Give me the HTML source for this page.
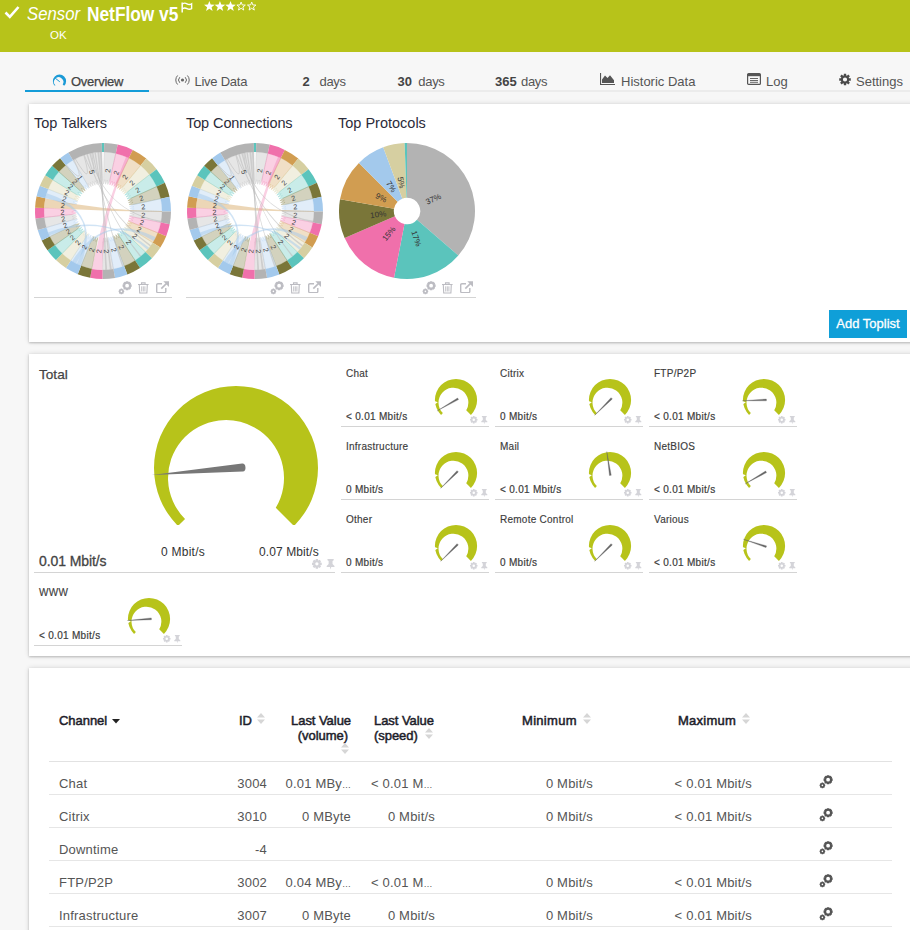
<!DOCTYPE html>
<html><head><meta charset="utf-8"><title>Sensor NetFlow v5</title>
<style>
*{box-sizing:border-box;margin:0;padding:0}
html,body{width:910px;height:930px;overflow:hidden}
body{background:#f7f7f7;font-family:"Liberation Sans",sans-serif;color:#444;position:relative;font-size:13px}
.abs{position:absolute;white-space:nowrap}
.hdr{left:0;top:0;width:910px;height:52px;background:#b7c31a}
.panel{background:#fff;box-shadow:0 0 5px rgba(0,0,0,.14),0 1px 2px rgba(0,0,0,.2)}
.tab{top:74px;font-size:13px;line-height:15px;color:#555}
.tab b{color:#444}
.tt{font-size:14.500px;line-height:18px;color:#2b2b3a;top:114px}
.ln{height:1px;background:#d4d4d4}
.gt{font-size:10px;line-height:13px;color:#3c3c3c;letter-spacing:.25px;-webkit-text-stroke:.15px #3c3c3c}
.gv{font-size:10px;line-height:13px;color:#3c3c3c;letter-spacing:.3px;-webkit-text-stroke:.2px #3c3c3c}
.th{font-size:13px;line-height:15px;font-weight:normal;color:#1d1d2a;top:713px;letter-spacing:-.05px;-webkit-text-stroke:.5px #1d1d2a}
.td{font-size:13px;line-height:15px;color:#555;letter-spacing:.2px}
.el{font-size:9px;letter-spacing:0}
.r{text-align:right}
</style></head><body>

<div class="abs hdr"></div>
<svg class="abs" style="left:4px;top:5px" width="16" height="14" viewBox="0 0 16 14"><path d="M1.500 7.500L5.800 11.800L14.500 2" fill="none" stroke="#fff" stroke-width="2.600"/></svg>
<div class="abs" style="left:27px;top:2px;font-size:18px;line-height:24px;color:#fff;font-style:italic;transform-origin:0 0;transform:scaleX(.93)">Sensor</div>
<div class="abs" style="left:87px;top:1.500px;font-size:20px;line-height:24px;color:#fff;font-weight:bold;transform-origin:0 0;transform:scaleX(.865)">NetFlow v5</div>
<svg class="abs" style="left:181px;top:1.500px" width="13" height="11" viewBox="0 0 13 11"><path d="M1.200 0.500V10.500" fill="none" stroke="#fff" stroke-width="1.500"/><path d="M1.500 1.800q2.200-1.300 4.500 0t4.600 0v4.800q-2.300 1.300-4.600 0t-4.500 0" fill="none" stroke="#fff" stroke-width="1.400"/></svg>
<svg class="abs" style="left:204.300px;top:0.600px" width="56" height="11.600" viewBox="0 0 53 11"><path transform="translate(0 0)" d="M5 0l1.300 3.400 3.700.2-2.900 2.300 1 3.600L5 7.400 1.900 9.500l1-3.600L0 3.600l3.700-.2z" fill="#fff"/><path transform="translate(10.05 0)" d="M5 0l1.300 3.400 3.700.2-2.900 2.300 1 3.600L5 7.400 1.900 9.500l1-3.600L0 3.600l3.700-.2z" fill="#fff"/><path transform="translate(20.1 0)" d="M5 0l1.300 3.400 3.700.2-2.900 2.300 1 3.600L5 7.400 1.900 9.500l1-3.600L0 3.600l3.700-.2z" fill="#fff"/><path transform="translate(30.15 0) translate(1 1) scale(.8)" d="M5 0l1.300 3.400 3.700.2-2.900 2.300 1 3.600L5 7.400 1.900 9.500l1-3.600L0 3.600l3.700-.2z" fill="none" stroke="#fff" stroke-width="1.100"/><path transform="translate(40.2 0) translate(1 1) scale(.8)" d="M5 0l1.300 3.400 3.700.2-2.900 2.300 1 3.600L5 7.400 1.900 9.500l1-3.600L0 3.600l3.700-.2z" fill="none" stroke="#fff" stroke-width="1.100"/></svg>
<div class="abs" style="left:50px;top:28px;font-size:11.500px;line-height:14px;color:#fff">OK</div>
<div class="abs" style="left:25px;top:90px;width:885px;height:2px;background:#ececec"></div>
<div class="abs" style="left:25px;top:90px;width:124px;height:2px;background:#149cd8"></div>
<svg class="abs" style="left:50px;top:72px" width="20" height="16" viewBox="50 72 20 16"><path d="M54.83 85.87A6.6 6.6 0 1 1 64.17 85.87L62.7 84.4A4.67 4.67 0 1 0 55.4 85.3Z" fill="#1b9ad6"/><path d="M55.300 78.200L59.800 81.800" stroke="#1b9ad6" stroke-width="1"/></svg>
<div class="abs tab" style="left:71px;letter-spacing:-.25px;color:#444;-webkit-text-stroke:.25px #444">Overview</div>
<svg class="abs" style="left:175px;top:74px" width="15" height="12" viewBox="0 0 15 12" fill="none" stroke="#666" stroke-width="1"><circle cx="7.500" cy="6" r="1.600" fill="#666" stroke="none"/><path d="M4.800 3.200a4 4 0 0 0 0 5.600M10.200 3.200a4 4 0 0 1 0 5.600M2.600 1.500a6.500 6.500 0 0 0 0 9M12.400 1.500a6.500 6.500 0 0 1 0 9"/></svg>
<div class="abs tab" style="left:194.500px;letter-spacing:-.25px">Live Data</div>
<div class="abs tab" style="left:302.5px"><b>2</b></div>
<div class="abs tab" style="left:319.5px;letter-spacing:-.3px">days</div>
<div class="abs tab" style="left:397.5px"><b>30</b></div>
<div class="abs tab" style="left:418.3px;letter-spacing:-.3px">days</div>
<div class="abs tab" style="left:495px"><b>365</b></div>
<div class="abs tab" style="left:521px;letter-spacing:-.3px">days</div>
<svg class="abs" style="left:600px;top:73px" width="15" height="12" viewBox="0 0 15 12"><path d="M0.500 0v11.500H15" fill="none" stroke="#555" stroke-width="1.200"/><path d="M2 10V6.500l3-4 2.500 2.500L10 2.200l4 5V10z" fill="#555"/></svg>
<div class="abs tab" style="left:621px">Historic Data</div>
<svg class="abs" style="left:747px;top:73px" width="14" height="12" viewBox="0 0 14 12"><rect x=".6" y=".6" width="12.800" height="10.800" rx="1" fill="none" stroke="#555" stroke-width="1.200"/><path d="M1 2h12" stroke="#555" stroke-width="2.400"/><path d="M3 5.500h8M3 7.500h8M3 9.300h8" stroke="#555" stroke-width=".9"/></svg>
<div class="abs tab" style="left:766px">Log</div>
<svg class="abs" style="left:838px;top:72px" width="16" height="16" viewBox="838 72 16 16"><path fill-rule="evenodd" fill="#4a4a4a" d="M843.74 75.49L843.86 73.71L846.14 73.71L846.26 75.49L846.94 75.78L848.29 74.6L849.9 76.21L848.72 77.56L849.01 78.24L850.79 78.36L850.79 80.64L849.01 80.76L848.72 81.44L849.9 82.79L848.29 84.4L846.94 83.22L846.26 83.51L846.14 85.29L843.86 85.29L843.74 83.51L843.06 83.22L841.71 84.4L840.1 82.79L841.28 81.44L840.99 80.76L839.21 80.64L839.21 78.36L840.99 78.24L841.28 77.56L840.1 76.21L841.71 74.6L843.06 75.78ZM842.9 79.5a2.1 2.1 0 1 0 4.2 0a2.1 2.1 0 1 0 -4.2 0Z"/></svg>
<div class="abs tab" style="left:856px">Settings</div>
<div class="abs panel" style="left:29px;top:104px;width:900px;height:238px"></div>
<div class="abs panel" style="left:29px;top:354px;width:900px;height:302px"></div>
<div class="abs panel" style="left:29px;top:668px;width:900px;height:300px"></div>
<svg class="abs" style="left:33px;top:141px" width="140" height="140" viewBox="-70 -70 140 140"><path d="M1.03 -58.99A59 59 0 0 1 12.77 -57.6L6.77 -30.56L4.76 -26.47L4.3 -31L2.62 -26.77L1.8 -31.25L0.47 -26.9Z" fill="#b3b3b3" fill-opacity=".33" stroke="#b3b3b3" stroke-opacity=".4" stroke-width=".6"/><path d="M12.77 -57.6A59 59 0 0 1 25.86 -53.03L13.72 -28.13L10.83 -24.62L11.47 -29.12L8.87 -25.4L9.15 -29.93L6.85 -26.01L6.77 -30.56Z" fill="#f070ab" fill-opacity=".33" stroke="#f070ab" stroke-opacity=".4" stroke-width=".6"/><path d="M25.86 -53.03A59 59 0 0 1 37.53 -45.53L19.91 -24.15L16.28 -21.41L17.95 -25.64L14.55 -22.62L15.89 -26.97L12.73 -23.7L13.72 -28.13Z" fill="#d19d51" fill-opacity=".33" stroke="#d19d51" stroke-opacity=".4" stroke-width=".6"/><path d="M37.53 -45.53A59 59 0 0 1 46.49 -36.32L24.66 -19.27L20.58 -17.32L23.2 -21.01L19.27 -18.77L21.61 -22.64L17.85 -20.12L19.91 -24.15Z" fill="#d6cfa1" fill-opacity=".33" stroke="#d6cfa1" stroke-opacity=".4" stroke-width=".6"/><path d="M46.49 -36.32A59 59 0 0 1 53.69 -24.47L28.48 -12.98L24.02 -12.11L27.38 -15.17L23 -13.96L26.1 -17.28L21.83 -15.72L24.66 -19.27Z" fill="#5bc4bc" fill-opacity=".33" stroke="#5bc4bc" stroke-opacity=".4" stroke-width=".6"/><path d="M53.69 -24.47A59 59 0 0 1 57.71 -12.27L30.62 -6.51L26.09 -6.55L30.06 -8.71L25.55 -8.42L29.35 -10.88L24.87 -10.26L28.48 -12.98Z" fill="#7a7639" fill-opacity=".33" stroke="#7a7639" stroke-opacity=".4" stroke-width=".6"/><path d="M57.71 -12.27A59 59 0 0 1 59 0.41L31.3 0.22L26.89 -0.78L31.23 -2.04L26.76 -2.72L31.01 -4.28L26.5 -4.64L30.62 -6.51Z" fill="#a3c9ec" fill-opacity=".33" stroke="#a3c9ec" stroke-opacity=".4" stroke-width=".6"/><path d="M59 0.41A59 59 0 0 1 57.88 11.46L30.7 6.08L26.57 4.23L31.07 3.75L26.81 2.21L31.27 1.4L26.9 0.19Z" fill="#b3b3b3" fill-opacity=".33" stroke="#b3b3b3" stroke-opacity=".4" stroke-width=".6"/><path d="M57.88 11.46A59 59 0 0 1 54.82 21.82L29.08 11.57L25.34 9.02L29.85 9.41L25.93 7.14L30.46 7.2L26.39 5.22Z" fill="#f070ab" fill-opacity=".33" stroke="#f070ab" stroke-opacity=".4" stroke-width=".6"/><path d="M54.82 21.82A59 59 0 0 1 49.76 31.7L26.4 16.82L23.22 13.59L27.59 14.78L24.17 11.8L28.62 12.66L24.99 9.95Z" fill="#d19d51" fill-opacity=".33" stroke="#d19d51" stroke-opacity=".4" stroke-width=".6"/><path d="M49.76 31.7A59 59 0 0 1 42.44 40.98L22.52 21.74L20.08 17.89L24.19 19.87L21.46 16.23L25.7 17.86L22.69 14.45Z" fill="#d6cfa1" fill-opacity=".33" stroke="#d6cfa1" stroke-opacity=".4" stroke-width=".6"/><path d="M42.44 40.98A59 59 0 0 1 32.13 49.48L17.05 26.25L15.49 21.99L18.98 24.89L17.11 20.76L20.81 23.38L18.63 19.4L22.52 21.74Z" fill="#5bc4bc" fill-opacity=".33" stroke="#5bc4bc" stroke-opacity=".4" stroke-width=".6"/><path d="M32.13 49.48A59 59 0 0 1 21.14 55.08L11.22 29.22L10.68 24.69L13.62 28.18L12.71 23.71L15.93 26.94L14.65 22.56Z" fill="#7a7639" fill-opacity=".33" stroke="#7a7639" stroke-opacity=".4" stroke-width=".6"/><path d="M21.14 55.08A59 59 0 0 1 10.45 58.07L5.54 30.81L5.76 26.28L7.85 30.3L7.72 25.77L10.11 29.62L9.64 25.11Z" fill="#a3c9ec" fill-opacity=".33" stroke="#a3c9ec" stroke-opacity=".4" stroke-width=".6"/><path d="M10.45 58.07A59 59 0 0 1 -0.41 59L-0.22 31.3L0.81 26.89L2.1 31.23L2.79 26.75L4.4 30.99L4.76 26.47Z" fill="#b3b3b3" fill-opacity=".33" stroke="#b3b3b3" stroke-opacity=".4" stroke-width=".6"/><path d="M-11.16 57.94A59 59 0 0 1 -21.91 54.78L-11.62 29.06L-9.03 25.34L-9.38 29.86L-7.08 25.95L-7.08 30.49L-5.09 26.41Z" fill="#7a7639" fill-opacity=".33" stroke="#7a7639" stroke-opacity=".4" stroke-width=".6"/><path d="M-21.91 54.78A59 59 0 0 1 -32.13 49.48L-17.05 26.25L-13.76 23.12L-14.94 27.5L-11.91 24.12L-12.75 28.59L-9.99 24.98Z" fill="#a3c9ec" fill-opacity=".33" stroke="#a3c9ec" stroke-opacity=".4" stroke-width=".6"/><path d="M-32.13 49.48A59 59 0 0 1 -40.84 42.58L-21.66 22.59L-17.87 20.1L-19.9 24.16L-16.31 21.39L-18.02 25.59L-14.65 22.56Z" fill="#d6cfa1" fill-opacity=".33" stroke="#d6cfa1" stroke-opacity=".4" stroke-width=".6"/><path d="M-40.84 42.58A59 59 0 0 1 -48.15 34.09L-25.55 18.09L-21.35 16.37L-24.1 19.98L-20.04 17.94L-22.51 21.75L-18.62 19.42Z" fill="#5bc4bc" fill-opacity=".33" stroke="#5bc4bc" stroke-opacity=".4" stroke-width=".6"/><path d="M-48.15 34.09A59 59 0 0 1 -53.21 25.49L-28.23 13.52L-23.75 12.64L-26.98 15.86L-22.59 14.6L-25.55 18.09Z" fill="#7a7639" fill-opacity=".33" stroke="#7a7639" stroke-opacity=".4" stroke-width=".6"/><path d="M-53.21 25.49A59 59 0 0 1 -56.63 16.56L-30.04 8.78L-25.49 8.59L-29.23 11.19L-24.71 10.63L-28.23 13.52Z" fill="#a3c9ec" fill-opacity=".33" stroke="#a3c9ec" stroke-opacity=".4" stroke-width=".6"/><path d="M-56.63 16.56A59 59 0 0 1 -58.64 6.47L-31.11 3.43L-26.62 3.88L-30.8 5.6L-26.28 5.73L-30.33 7.73L-25.82 7.55Z" fill="#b3b3b3" fill-opacity=".33" stroke="#b3b3b3" stroke-opacity=".4" stroke-width=".6"/><path d="M-58.64 6.47A59 59 0 0 1 -58.93 -2.88L-31.26 -1.53L-26.9 -0.25L-31.29 0.96L-26.83 1.89L-31.11 3.43Z" fill="#f070ab" fill-opacity=".33" stroke="#f070ab" stroke-opacity=".4" stroke-width=".6"/><path d="M-57.6 -12.77A59 59 0 0 1 -54.78 -21.91L-29.06 -11.62L-25.36 -8.97L-29.91 -9.23L-26 -6.88L-30.56 -6.77Z" fill="#a3c9ec" fill-opacity=".33" stroke="#a3c9ec" stroke-opacity=".4" stroke-width=".6"/><path d="M-54.78 -21.91A59 59 0 0 1 -50.14 -31.09L-26.6 -16.49L-23.34 -13.37L-27.69 -14.6L-24.22 -11.71L-28.64 -12.63L-24.98 -9.99Z" fill="#d6cfa1" fill-opacity=".33" stroke="#d6cfa1" stroke-opacity=".4" stroke-width=".6"/><path d="M-50.14 -31.09A59 59 0 0 1 -44.12 -39.17L-23.41 -20.78L-20.86 -16.98L-25.1 -18.71L-22.24 -15.14L-26.6 -16.49Z" fill="#5bc4bc" fill-opacity=".33" stroke="#5bc4bc" stroke-opacity=".4" stroke-width=".6"/><path d="M-44.12 -39.17A59 59 0 0 1 -37.21 -45.79L-19.74 -24.29L-17.8 -20.17L-21.64 -22.61L-19.37 -18.66L-23.41 -20.78Z" fill="#7a7639" fill-opacity=".33" stroke="#7a7639" stroke-opacity=".4" stroke-width=".6"/><path d="M-37.21 -45.79A59 59 0 0 1 -30.03 -50.78L-15.93 -26.94L-14.54 -22.63L-17.89 -25.69L-16.18 -21.49L-19.74 -24.29Z" fill="#a3c9ec" fill-opacity=".33" stroke="#a3c9ec" stroke-opacity=".4" stroke-width=".6"/><path d="M-30.03 -50.78A59 59 0 0 1 -1.03 -58.99L-0.55 -31.3L-1.54 -26.86L-3.03 -31.15L-3.67 -26.65L-5.49 -30.81L-5.77 -26.27L-7.92 -30.28L-7.84 -25.73L-10.3 -29.56L-9.86 -25.03L-12.62 -28.65L-11.81 -24.17L-14.85 -27.55L-13.69 -23.15Z" fill="#b3b3b3" fill-opacity=".33" stroke="#b3b3b3" stroke-opacity=".4" stroke-width=".6"/><path d="M-58.92 -3.09A59 59 0 0 1 -57.65 -12.57Q0 0 59 -0A59 59 0 0 1 58.99 0.82Q0 0 -58.92 -3.09Z" fill="#d19d51" fill-opacity=".42"/><path d="M-0.62 59A59 59 0 0 1 -10.95 57.97Q0 0 23.05 -54.31A59 59 0 0 1 25.86 -53.03Q0 0 -0.62 59Z" fill="#f070ab" fill-opacity=".33"/><path d="M-5.55 -58.74A59 59 0 0 1 -3.7 -58.88Q0 0 8.72 58.35A59 59 0 0 1 6.88 58.6Q0 0 -5.55 -58.74Z" fill="#bdbdbd" fill-opacity=".6"/><path d="M-3.09 -58.92A59 59 0 0 1 -1.24 -58.99Q0 0 4.12 58.86A59 59 0 0 1 2.26 58.96Q0 0 -3.09 -58.92Z" fill="#bdbdbd" fill-opacity=".6"/><path d="M-8.62 -58.37A59 59 0 0 1 -7.19 -58.56Q0 0 20.57 55.3A59 59 0 0 1 19.21 55.79Q0 0 -8.62 -58.37Z" fill="#bdbdbd" fill-opacity=".6"/><path d="M-13.67 -57.39A59 59 0 0 1 -12.27 -57.71Q0 0 58.17 9.84A59 59 0 0 1 57.92 11.26Q0 0 -13.67 -57.39Z" fill="#bdbdbd" fill-opacity=".6"/><path d="M-16.66 -56.6A59 59 0 0 1 -15.27 -56.99Q0 0 47.97 34.35A59 59 0 0 1 47.12 35.51Q0 0 -16.66 -56.6Z" fill="#bdbdbd" fill-opacity=".6"/><path d="M-10.95 -57.97A59 59 0 0 1 -9.64 -58.21Q0 0 38.24 44.93A59 59 0 0 1 37.13 45.85Q0 0 -10.95 -57.97Z" fill="#bdbdbd" fill-opacity=".6"/><path d="M-57.49 -13.27A59 59 0 0 1 -56.27 -17.74Q0 0 -22.58 54.51A59 59 0 0 1 -26.33 52.8Q0 0 -57.49 -13.27Z" fill="#a3c9ec" fill-opacity=".5"/><path d="M-26.79 52.57A59 59 0 0 1 -30.83 50.31Q0 0 52.8 26.33A59 59 0 0 1 50.84 29.94Q0 0 -26.79 52.57Z" fill="#a3c9ec" fill-opacity=".5"/><path d="M-53.69 24.47A59 59 0 0 1 -54.89 21.62Q0 0 46.17 36.73A59 59 0 0 1 44.53 38.71Q0 0 -53.69 24.47Z" fill="#a3c9ec" fill-opacity=".5"/><path d="M-27.7 -52.09Q-8.77 -20.18 -19.21 -55.79" fill="none" stroke="#c9c9c9" stroke-width="1" stroke-opacity=".8"/><path d="M-18.72 -55.95Q-5.6 -21.28 -11.26 -57.92" fill="none" stroke="#c9c9c9" stroke-width="1" stroke-opacity=".8"/><path d="M-36.73 -46.17Q-15.28 -21.03 -29.05 -51.35" fill="none" stroke="#c9c9c9" stroke-width="1" stroke-opacity=".8"/><path d="M0 -68A68 68 0 0 1 1.19 -67.99L1.03 -58.99A59 59 0 0 0 0 -59Z" fill="#5bc4bc"/><path d="M1.19 -67.99A68 68 0 0 1 14.72 -66.39L12.77 -57.6A59 59 0 0 0 1.03 -58.99Z" fill="#b3b3b3"/><path d="M14.72 -66.39A68 68 0 0 1 29.81 -61.12L25.86 -53.03A59 59 0 0 0 12.77 -57.6Z" fill="#f070ab"/><path d="M29.81 -61.12A68 68 0 0 1 43.25 -52.47L37.53 -45.53A59 59 0 0 0 25.86 -53.03Z" fill="#d19d51"/><path d="M43.25 -52.47A68 68 0 0 1 53.58 -41.86L46.49 -36.32A59 59 0 0 0 37.53 -45.53Z" fill="#d6cfa1"/><path d="M53.58 -41.86A68 68 0 0 1 61.88 -28.2L53.69 -24.47A59 59 0 0 0 46.49 -36.32Z" fill="#5bc4bc"/><path d="M61.88 -28.2A68 68 0 0 1 66.51 -14.14L57.71 -12.27A59 59 0 0 0 53.69 -24.47Z" fill="#7a7639"/><path d="M66.51 -14.14A68 68 0 0 1 68 0.47L59 0.41A59 59 0 0 0 57.71 -12.27Z" fill="#a3c9ec"/><path d="M68 0.47A68 68 0 0 1 66.7 13.21L57.88 11.46A59 59 0 0 0 59 0.41Z" fill="#b3b3b3"/><path d="M66.7 13.21A68 68 0 0 1 63.18 25.14L54.82 21.82A59 59 0 0 0 57.88 11.46Z" fill="#f070ab"/><path d="M63.18 25.14A68 68 0 0 1 57.35 36.54L49.76 31.7A59 59 0 0 0 54.82 21.82Z" fill="#d19d51"/><path d="M57.35 36.54A68 68 0 0 1 48.92 47.24L42.44 40.98A59 59 0 0 0 49.76 31.7Z" fill="#d6cfa1"/><path d="M48.92 47.24A68 68 0 0 1 37.04 57.03L32.13 49.48A59 59 0 0 0 42.44 40.98Z" fill="#5bc4bc"/><path d="M37.04 57.03A68 68 0 0 1 24.37 63.48L21.14 55.08A59 59 0 0 0 32.13 49.48Z" fill="#7a7639"/><path d="M24.37 63.48A68 68 0 0 1 12.04 66.93L10.45 58.07A59 59 0 0 0 21.14 55.08Z" fill="#a3c9ec"/><path d="M12.04 66.93A68 68 0 0 1 -0.47 68L-0.41 59A59 59 0 0 0 10.45 58.07Z" fill="#b3b3b3"/><path d="M-0.47 68A68 68 0 0 1 -12.86 66.77L-11.16 57.94A59 59 0 0 0 -0.41 59Z" fill="#f070ab"/><path d="M-12.86 66.77A68 68 0 0 1 -25.25 63.14L-21.91 54.78A59 59 0 0 0 -11.16 57.94Z" fill="#7a7639"/><path d="M-25.25 63.14A68 68 0 0 1 -37.04 57.03L-32.13 49.48A59 59 0 0 0 -21.91 54.78Z" fill="#a3c9ec"/><path d="M-37.04 57.03A68 68 0 0 1 -47.07 49.08L-40.84 42.58A59 59 0 0 0 -32.13 49.48Z" fill="#d6cfa1"/><path d="M-47.07 49.08A68 68 0 0 1 -55.5 39.29L-48.15 34.09A59 59 0 0 0 -40.84 42.58Z" fill="#5bc4bc"/><path d="M-55.5 39.29A68 68 0 0 1 -61.32 29.38L-53.21 25.49A59 59 0 0 0 -48.15 34.09Z" fill="#7a7639"/><path d="M-61.32 29.38A68 68 0 0 1 -65.27 19.09L-56.63 16.56A59 59 0 0 0 -53.21 25.49Z" fill="#a3c9ec"/><path d="M-65.27 19.09A68 68 0 0 1 -67.59 7.46L-58.64 6.47A59 59 0 0 0 -56.63 16.56Z" fill="#b3b3b3"/><path d="M-67.59 7.46A68 68 0 0 1 -67.92 -3.32L-58.93 -2.88A59 59 0 0 0 -58.64 6.47Z" fill="#f070ab"/><path d="M-67.92 -3.32A68 68 0 0 1 -66.39 -14.72L-57.6 -12.77A59 59 0 0 0 -58.93 -2.88Z" fill="#d19d51"/><path d="M-66.39 -14.72A68 68 0 0 1 -63.14 -25.25L-54.78 -21.91A59 59 0 0 0 -57.6 -12.77Z" fill="#a3c9ec"/><path d="M-63.14 -25.25A68 68 0 0 1 -57.79 -35.83L-50.14 -31.09A59 59 0 0 0 -54.78 -21.91Z" fill="#d6cfa1"/><path d="M-57.79 -35.83A68 68 0 0 1 -50.85 -45.15L-44.12 -39.17A59 59 0 0 0 -50.14 -31.09Z" fill="#5bc4bc"/><path d="M-50.85 -45.15A68 68 0 0 1 -42.89 -52.77L-37.21 -45.79A59 59 0 0 0 -44.12 -39.17Z" fill="#7a7639"/><path d="M-42.89 -52.77A68 68 0 0 1 -34.61 -58.53L-30.03 -50.78A59 59 0 0 0 -37.21 -45.79Z" fill="#a3c9ec"/><path d="M-34.61 -58.53A68 68 0 0 1 -1.19 -67.99L-1.03 -58.99A59 59 0 0 0 -30.03 -50.78Z" fill="#b3b3b3"/><path d="M-1.19 -67.99A68 68 0 0 1 -0 -68L-0 -59A59 59 0 0 0 -1.03 -58.99Z" fill="#5bc4bc"/><text transform="translate(4.76 -40.22) rotate(-83.25)" text-anchor="middle" font-size="7.200" fill="#444" dy="2.500" font-family="Liberation Sans">2</text><text transform="translate(13.35 -38.24) rotate(-70.75)" text-anchor="middle" font-size="7.200" fill="#444" dy="2.500" font-family="Liberation Sans">2</text><text transform="translate(21.91 -34.06) rotate(-57.25)" text-anchor="middle" font-size="7.200" fill="#444" dy="2.500" font-family="Liberation Sans">2</text><text transform="translate(29.01 -28.26) rotate(-44.25)" text-anchor="middle" font-size="7.200" fill="#444" dy="2.500" font-family="Liberation Sans">2</text><text transform="translate(34.62 -21.01) rotate(-31.25)" text-anchor="middle" font-size="7.200" fill="#444" dy="2.500" font-family="Liberation Sans">2</text><text transform="translate(38.46 -12.68) rotate(-18.25)" text-anchor="middle" font-size="7.200" fill="#444" dy="2.500" font-family="Liberation Sans">2</text><text transform="translate(40.29 -4.09) rotate(-5.8)" text-anchor="middle" font-size="7.200" fill="#444" dy="2.500" font-family="Liberation Sans">2</text><text transform="translate(40.29 4.09) rotate(5.8)" text-anchor="middle" font-size="7.200" fill="#444" dy="2.500" font-family="Liberation Sans">2</text><text transform="translate(38.84 11.47) rotate(16.45)" text-anchor="middle" font-size="7.200" fill="#444" dy="2.500" font-family="Liberation Sans">2</text><text transform="translate(36.05 18.45) rotate(27.1)" text-anchor="middle" font-size="7.200" fill="#444" dy="2.500" font-family="Liberation Sans">2</text><text transform="translate(31.81 25.07) rotate(38.25)" text-anchor="middle" font-size="7.200" fill="#444" dy="2.500" font-family="Liberation Sans">2</text><text transform="translate(25.76 31.25) rotate(50.5)" text-anchor="middle" font-size="7.200" fill="#444" dy="2.500" font-family="Liberation Sans">2</text><text transform="translate(18.39 36.09) rotate(63)" text-anchor="middle" font-size="7.200" fill="#444" dy="2.500" font-family="Liberation Sans">2</text><text transform="translate(10.89 39.01) rotate(74.4)" text-anchor="middle" font-size="7.200" fill="#444" dy="2.500" font-family="Liberation Sans">2</text><text transform="translate(3.46 40.35) rotate(85.1)" text-anchor="middle" font-size="7.200" fill="#444" dy="2.500" font-family="Liberation Sans">2</text><text transform="translate(-3.99 40.3) rotate(-84.35)" text-anchor="middle" font-size="7.200" fill="#444" dy="2.500" font-family="Liberation Sans">2</text><text transform="translate(-11.4 38.86) rotate(-73.65)" text-anchor="middle" font-size="7.200" fill="#444" dy="2.500" font-family="Liberation Sans">2</text><text transform="translate(-18.64 35.96) rotate(-62.6)" text-anchor="middle" font-size="7.200" fill="#444" dy="2.500" font-family="Liberation Sans">2</text><text transform="translate(-25.16 31.74) rotate(-51.6)" text-anchor="middle" font-size="7.200" fill="#444" dy="2.500" font-family="Liberation Sans">2</text><text transform="translate(-30.68 26.44) rotate(-40.75)" text-anchor="middle" font-size="7.200" fill="#444" dy="2.500" font-family="Liberation Sans">2</text><text transform="translate(-34.91 20.52) rotate(-30.45)" text-anchor="middle" font-size="7.200" fill="#444" dy="2.500" font-family="Liberation Sans">2</text><text transform="translate(-37.82 14.48) rotate(-20.95)" text-anchor="middle" font-size="7.200" fill="#444" dy="2.500" font-family="Liberation Sans">2</text><text transform="translate(-39.71 7.94) rotate(-11.3)" text-anchor="middle" font-size="7.200" fill="#444" dy="2.500" font-family="Liberation Sans">2</text><text transform="translate(-40.48 1.24) rotate(-1.75)" text-anchor="middle" font-size="7.200" fill="#444" dy="2.500" font-family="Liberation Sans">2</text><text transform="translate(-40.14 -5.39) rotate(7.65)" text-anchor="middle" font-size="7.200" fill="#444" dy="2.500" font-family="Liberation Sans">2</text><text transform="translate(-38.7 -11.94) rotate(17.15)" text-anchor="middle" font-size="7.200" fill="#444" dy="2.500" font-family="Liberation Sans">2</text><text transform="translate(-36.15 -18.26) rotate(26.8)" text-anchor="middle" font-size="7.200" fill="#444" dy="2.500" font-family="Liberation Sans">2</text><text transform="translate(-32.47 -24.2) rotate(36.7)" text-anchor="middle" font-size="7.200" fill="#444" dy="2.500" font-family="Liberation Sans">2</text><text transform="translate(-28.01 -29.26) rotate(46.25)" text-anchor="middle" font-size="7.200" fill="#444" dy="2.500" font-family="Liberation Sans">2</text><text transform="translate(-23.14 -33.24) rotate(55.15)" text-anchor="middle" font-size="7.200" fill="#444" dy="2.500" font-family="Liberation Sans">1</text><text transform="translate(-11.03 -38.97) rotate(74.2)" text-anchor="middle" font-size="7.200" fill="#444" dy="2.500" font-family="Liberation Sans">5</text></svg>
<svg class="abs" style="left:185px;top:141px" width="140" height="140" viewBox="-70 -70 140 140"><path d="M1.03 -58.99A59 59 0 0 1 12.77 -57.6L6.77 -30.56L4.76 -26.47L4.3 -31L2.62 -26.77L1.8 -31.25L0.47 -26.9Z" fill="#b3b3b3" fill-opacity=".33" stroke="#b3b3b3" stroke-opacity=".4" stroke-width=".6"/><path d="M12.77 -57.6A59 59 0 0 1 25.86 -53.03L13.72 -28.13L10.83 -24.62L11.47 -29.12L8.87 -25.4L9.15 -29.93L6.85 -26.01L6.77 -30.56Z" fill="#f070ab" fill-opacity=".33" stroke="#f070ab" stroke-opacity=".4" stroke-width=".6"/><path d="M25.86 -53.03A59 59 0 0 1 37.53 -45.53L19.91 -24.15L16.28 -21.41L17.95 -25.64L14.55 -22.62L15.89 -26.97L12.73 -23.7L13.72 -28.13Z" fill="#d19d51" fill-opacity=".33" stroke="#d19d51" stroke-opacity=".4" stroke-width=".6"/><path d="M37.53 -45.53A59 59 0 0 1 46.49 -36.32L24.66 -19.27L20.58 -17.32L23.2 -21.01L19.27 -18.77L21.61 -22.64L17.85 -20.12L19.91 -24.15Z" fill="#d6cfa1" fill-opacity=".33" stroke="#d6cfa1" stroke-opacity=".4" stroke-width=".6"/><path d="M46.49 -36.32A59 59 0 0 1 53.69 -24.47L28.48 -12.98L24.02 -12.11L27.38 -15.17L23 -13.96L26.1 -17.28L21.83 -15.72L24.66 -19.27Z" fill="#5bc4bc" fill-opacity=".33" stroke="#5bc4bc" stroke-opacity=".4" stroke-width=".6"/><path d="M53.69 -24.47A59 59 0 0 1 57.71 -12.27L30.62 -6.51L26.09 -6.55L30.06 -8.71L25.55 -8.42L29.35 -10.88L24.87 -10.26L28.48 -12.98Z" fill="#7a7639" fill-opacity=".33" stroke="#7a7639" stroke-opacity=".4" stroke-width=".6"/><path d="M57.71 -12.27A59 59 0 0 1 59 0.41L31.3 0.22L26.89 -0.78L31.23 -2.04L26.76 -2.72L31.01 -4.28L26.5 -4.64L30.62 -6.51Z" fill="#a3c9ec" fill-opacity=".33" stroke="#a3c9ec" stroke-opacity=".4" stroke-width=".6"/><path d="M59 0.41A59 59 0 0 1 57.88 11.46L30.7 6.08L26.57 4.23L31.07 3.75L26.81 2.21L31.27 1.4L26.9 0.19Z" fill="#b3b3b3" fill-opacity=".33" stroke="#b3b3b3" stroke-opacity=".4" stroke-width=".6"/><path d="M57.88 11.46A59 59 0 0 1 54.82 21.82L29.08 11.57L25.34 9.02L29.85 9.41L25.93 7.14L30.46 7.2L26.39 5.22Z" fill="#f070ab" fill-opacity=".33" stroke="#f070ab" stroke-opacity=".4" stroke-width=".6"/><path d="M54.82 21.82A59 59 0 0 1 49.76 31.7L26.4 16.82L23.22 13.59L27.59 14.78L24.17 11.8L28.62 12.66L24.99 9.95Z" fill="#d19d51" fill-opacity=".33" stroke="#d19d51" stroke-opacity=".4" stroke-width=".6"/><path d="M49.76 31.7A59 59 0 0 1 42.44 40.98L22.52 21.74L20.08 17.89L24.19 19.87L21.46 16.23L25.7 17.86L22.69 14.45Z" fill="#d6cfa1" fill-opacity=".33" stroke="#d6cfa1" stroke-opacity=".4" stroke-width=".6"/><path d="M42.44 40.98A59 59 0 0 1 32.13 49.48L17.05 26.25L15.49 21.99L18.98 24.89L17.11 20.76L20.81 23.38L18.63 19.4L22.52 21.74Z" fill="#5bc4bc" fill-opacity=".33" stroke="#5bc4bc" stroke-opacity=".4" stroke-width=".6"/><path d="M32.13 49.48A59 59 0 0 1 21.14 55.08L11.22 29.22L10.68 24.69L13.62 28.18L12.71 23.71L15.93 26.94L14.65 22.56Z" fill="#7a7639" fill-opacity=".33" stroke="#7a7639" stroke-opacity=".4" stroke-width=".6"/><path d="M21.14 55.08A59 59 0 0 1 10.45 58.07L5.54 30.81L5.76 26.28L7.85 30.3L7.72 25.77L10.11 29.62L9.64 25.11Z" fill="#a3c9ec" fill-opacity=".33" stroke="#a3c9ec" stroke-opacity=".4" stroke-width=".6"/><path d="M10.45 58.07A59 59 0 0 1 -0.41 59L-0.22 31.3L0.81 26.89L2.1 31.23L2.79 26.75L4.4 30.99L4.76 26.47Z" fill="#b3b3b3" fill-opacity=".33" stroke="#b3b3b3" stroke-opacity=".4" stroke-width=".6"/><path d="M-11.16 57.94A59 59 0 0 1 -21.91 54.78L-11.62 29.06L-9.03 25.34L-9.38 29.86L-7.08 25.95L-7.08 30.49L-5.09 26.41Z" fill="#7a7639" fill-opacity=".33" stroke="#7a7639" stroke-opacity=".4" stroke-width=".6"/><path d="M-21.91 54.78A59 59 0 0 1 -32.13 49.48L-17.05 26.25L-13.76 23.12L-14.94 27.5L-11.91 24.12L-12.75 28.59L-9.99 24.98Z" fill="#a3c9ec" fill-opacity=".33" stroke="#a3c9ec" stroke-opacity=".4" stroke-width=".6"/><path d="M-32.13 49.48A59 59 0 0 1 -40.84 42.58L-21.66 22.59L-17.87 20.1L-19.9 24.16L-16.31 21.39L-18.02 25.59L-14.65 22.56Z" fill="#d6cfa1" fill-opacity=".33" stroke="#d6cfa1" stroke-opacity=".4" stroke-width=".6"/><path d="M-40.84 42.58A59 59 0 0 1 -48.15 34.09L-25.55 18.09L-21.35 16.37L-24.1 19.98L-20.04 17.94L-22.51 21.75L-18.62 19.42Z" fill="#5bc4bc" fill-opacity=".33" stroke="#5bc4bc" stroke-opacity=".4" stroke-width=".6"/><path d="M-48.15 34.09A59 59 0 0 1 -53.21 25.49L-28.23 13.52L-23.75 12.64L-26.98 15.86L-22.59 14.6L-25.55 18.09Z" fill="#7a7639" fill-opacity=".33" stroke="#7a7639" stroke-opacity=".4" stroke-width=".6"/><path d="M-53.21 25.49A59 59 0 0 1 -56.63 16.56L-30.04 8.78L-25.49 8.59L-29.23 11.19L-24.71 10.63L-28.23 13.52Z" fill="#a3c9ec" fill-opacity=".33" stroke="#a3c9ec" stroke-opacity=".4" stroke-width=".6"/><path d="M-56.63 16.56A59 59 0 0 1 -58.64 6.47L-31.11 3.43L-26.62 3.88L-30.8 5.6L-26.28 5.73L-30.33 7.73L-25.82 7.55Z" fill="#b3b3b3" fill-opacity=".33" stroke="#b3b3b3" stroke-opacity=".4" stroke-width=".6"/><path d="M-58.64 6.47A59 59 0 0 1 -58.93 -2.88L-31.26 -1.53L-26.9 -0.25L-31.29 0.96L-26.83 1.89L-31.11 3.43Z" fill="#f070ab" fill-opacity=".33" stroke="#f070ab" stroke-opacity=".4" stroke-width=".6"/><path d="M-57.6 -12.77A59 59 0 0 1 -54.78 -21.91L-29.06 -11.62L-25.36 -8.97L-29.91 -9.23L-26 -6.88L-30.56 -6.77Z" fill="#a3c9ec" fill-opacity=".33" stroke="#a3c9ec" stroke-opacity=".4" stroke-width=".6"/><path d="M-54.78 -21.91A59 59 0 0 1 -50.14 -31.09L-26.6 -16.49L-23.34 -13.37L-27.69 -14.6L-24.22 -11.71L-28.64 -12.63L-24.98 -9.99Z" fill="#d6cfa1" fill-opacity=".33" stroke="#d6cfa1" stroke-opacity=".4" stroke-width=".6"/><path d="M-50.14 -31.09A59 59 0 0 1 -44.12 -39.17L-23.41 -20.78L-20.86 -16.98L-25.1 -18.71L-22.24 -15.14L-26.6 -16.49Z" fill="#5bc4bc" fill-opacity=".33" stroke="#5bc4bc" stroke-opacity=".4" stroke-width=".6"/><path d="M-44.12 -39.17A59 59 0 0 1 -37.21 -45.79L-19.74 -24.29L-17.8 -20.17L-21.64 -22.61L-19.37 -18.66L-23.41 -20.78Z" fill="#7a7639" fill-opacity=".33" stroke="#7a7639" stroke-opacity=".4" stroke-width=".6"/><path d="M-37.21 -45.79A59 59 0 0 1 -30.03 -50.78L-15.93 -26.94L-14.54 -22.63L-17.89 -25.69L-16.18 -21.49L-19.74 -24.29Z" fill="#a3c9ec" fill-opacity=".33" stroke="#a3c9ec" stroke-opacity=".4" stroke-width=".6"/><path d="M-30.03 -50.78A59 59 0 0 1 -1.03 -58.99L-0.55 -31.3L-1.54 -26.86L-3.03 -31.15L-3.67 -26.65L-5.49 -30.81L-5.77 -26.27L-7.92 -30.28L-7.84 -25.73L-10.3 -29.56L-9.86 -25.03L-12.62 -28.65L-11.81 -24.17L-14.85 -27.55L-13.69 -23.15Z" fill="#b3b3b3" fill-opacity=".33" stroke="#b3b3b3" stroke-opacity=".4" stroke-width=".6"/><path d="M-58.92 -3.09A59 59 0 0 1 -57.65 -12.57Q0 0 59 -0A59 59 0 0 1 58.99 0.82Q0 0 -58.92 -3.09Z" fill="#d19d51" fill-opacity=".42"/><path d="M-0.62 59A59 59 0 0 1 -10.95 57.97Q0 0 23.05 -54.31A59 59 0 0 1 25.86 -53.03Q0 0 -0.62 59Z" fill="#f070ab" fill-opacity=".33"/><path d="M-5.55 -58.74A59 59 0 0 1 -3.7 -58.88Q0 0 8.72 58.35A59 59 0 0 1 6.88 58.6Q0 0 -5.55 -58.74Z" fill="#bdbdbd" fill-opacity=".6"/><path d="M-3.09 -58.92A59 59 0 0 1 -1.24 -58.99Q0 0 4.12 58.86A59 59 0 0 1 2.26 58.96Q0 0 -3.09 -58.92Z" fill="#bdbdbd" fill-opacity=".6"/><path d="M-8.62 -58.37A59 59 0 0 1 -7.19 -58.56Q0 0 20.57 55.3A59 59 0 0 1 19.21 55.79Q0 0 -8.62 -58.37Z" fill="#bdbdbd" fill-opacity=".6"/><path d="M-13.67 -57.39A59 59 0 0 1 -12.27 -57.71Q0 0 58.17 9.84A59 59 0 0 1 57.92 11.26Q0 0 -13.67 -57.39Z" fill="#bdbdbd" fill-opacity=".6"/><path d="M-16.66 -56.6A59 59 0 0 1 -15.27 -56.99Q0 0 47.97 34.35A59 59 0 0 1 47.12 35.51Q0 0 -16.66 -56.6Z" fill="#bdbdbd" fill-opacity=".6"/><path d="M-10.95 -57.97A59 59 0 0 1 -9.64 -58.21Q0 0 38.24 44.93A59 59 0 0 1 37.13 45.85Q0 0 -10.95 -57.97Z" fill="#bdbdbd" fill-opacity=".6"/><path d="M-57.49 -13.27A59 59 0 0 1 -56.27 -17.74Q0 0 -22.58 54.51A59 59 0 0 1 -26.33 52.8Q0 0 -57.49 -13.27Z" fill="#a3c9ec" fill-opacity=".5"/><path d="M-26.79 52.57A59 59 0 0 1 -30.83 50.31Q0 0 52.8 26.33A59 59 0 0 1 50.84 29.94Q0 0 -26.79 52.57Z" fill="#a3c9ec" fill-opacity=".5"/><path d="M-53.69 24.47A59 59 0 0 1 -54.89 21.62Q0 0 46.17 36.73A59 59 0 0 1 44.53 38.71Q0 0 -53.69 24.47Z" fill="#a3c9ec" fill-opacity=".5"/><path d="M-27.7 -52.09Q-8.77 -20.18 -19.21 -55.79" fill="none" stroke="#c9c9c9" stroke-width="1" stroke-opacity=".8"/><path d="M-18.72 -55.95Q-5.6 -21.28 -11.26 -57.92" fill="none" stroke="#c9c9c9" stroke-width="1" stroke-opacity=".8"/><path d="M-36.73 -46.17Q-15.28 -21.03 -29.05 -51.35" fill="none" stroke="#c9c9c9" stroke-width="1" stroke-opacity=".8"/><path d="M0 -68A68 68 0 0 1 1.19 -67.99L1.03 -58.99A59 59 0 0 0 0 -59Z" fill="#5bc4bc"/><path d="M1.19 -67.99A68 68 0 0 1 14.72 -66.39L12.77 -57.6A59 59 0 0 0 1.03 -58.99Z" fill="#b3b3b3"/><path d="M14.72 -66.39A68 68 0 0 1 29.81 -61.12L25.86 -53.03A59 59 0 0 0 12.77 -57.6Z" fill="#f070ab"/><path d="M29.81 -61.12A68 68 0 0 1 43.25 -52.47L37.53 -45.53A59 59 0 0 0 25.86 -53.03Z" fill="#d19d51"/><path d="M43.25 -52.47A68 68 0 0 1 53.58 -41.86L46.49 -36.32A59 59 0 0 0 37.53 -45.53Z" fill="#d6cfa1"/><path d="M53.58 -41.86A68 68 0 0 1 61.88 -28.2L53.69 -24.47A59 59 0 0 0 46.49 -36.32Z" fill="#5bc4bc"/><path d="M61.88 -28.2A68 68 0 0 1 66.51 -14.14L57.71 -12.27A59 59 0 0 0 53.69 -24.47Z" fill="#7a7639"/><path d="M66.51 -14.14A68 68 0 0 1 68 0.47L59 0.41A59 59 0 0 0 57.71 -12.27Z" fill="#a3c9ec"/><path d="M68 0.47A68 68 0 0 1 66.7 13.21L57.88 11.46A59 59 0 0 0 59 0.41Z" fill="#b3b3b3"/><path d="M66.7 13.21A68 68 0 0 1 63.18 25.14L54.82 21.82A59 59 0 0 0 57.88 11.46Z" fill="#f070ab"/><path d="M63.18 25.14A68 68 0 0 1 57.35 36.54L49.76 31.7A59 59 0 0 0 54.82 21.82Z" fill="#d19d51"/><path d="M57.35 36.54A68 68 0 0 1 48.92 47.24L42.44 40.98A59 59 0 0 0 49.76 31.7Z" fill="#d6cfa1"/><path d="M48.92 47.24A68 68 0 0 1 37.04 57.03L32.13 49.48A59 59 0 0 0 42.44 40.98Z" fill="#5bc4bc"/><path d="M37.04 57.03A68 68 0 0 1 24.37 63.48L21.14 55.08A59 59 0 0 0 32.13 49.48Z" fill="#7a7639"/><path d="M24.37 63.48A68 68 0 0 1 12.04 66.93L10.45 58.07A59 59 0 0 0 21.14 55.08Z" fill="#a3c9ec"/><path d="M12.04 66.93A68 68 0 0 1 -0.47 68L-0.41 59A59 59 0 0 0 10.45 58.07Z" fill="#b3b3b3"/><path d="M-0.47 68A68 68 0 0 1 -12.86 66.77L-11.16 57.94A59 59 0 0 0 -0.41 59Z" fill="#f070ab"/><path d="M-12.86 66.77A68 68 0 0 1 -25.25 63.14L-21.91 54.78A59 59 0 0 0 -11.16 57.94Z" fill="#7a7639"/><path d="M-25.25 63.14A68 68 0 0 1 -37.04 57.03L-32.13 49.48A59 59 0 0 0 -21.91 54.78Z" fill="#a3c9ec"/><path d="M-37.04 57.03A68 68 0 0 1 -47.07 49.08L-40.84 42.58A59 59 0 0 0 -32.13 49.48Z" fill="#d6cfa1"/><path d="M-47.07 49.08A68 68 0 0 1 -55.5 39.29L-48.15 34.09A59 59 0 0 0 -40.84 42.58Z" fill="#5bc4bc"/><path d="M-55.5 39.29A68 68 0 0 1 -61.32 29.38L-53.21 25.49A59 59 0 0 0 -48.15 34.09Z" fill="#7a7639"/><path d="M-61.32 29.38A68 68 0 0 1 -65.27 19.09L-56.63 16.56A59 59 0 0 0 -53.21 25.49Z" fill="#a3c9ec"/><path d="M-65.27 19.09A68 68 0 0 1 -67.59 7.46L-58.64 6.47A59 59 0 0 0 -56.63 16.56Z" fill="#b3b3b3"/><path d="M-67.59 7.46A68 68 0 0 1 -67.92 -3.32L-58.93 -2.88A59 59 0 0 0 -58.64 6.47Z" fill="#f070ab"/><path d="M-67.92 -3.32A68 68 0 0 1 -66.39 -14.72L-57.6 -12.77A59 59 0 0 0 -58.93 -2.88Z" fill="#d19d51"/><path d="M-66.39 -14.72A68 68 0 0 1 -63.14 -25.25L-54.78 -21.91A59 59 0 0 0 -57.6 -12.77Z" fill="#a3c9ec"/><path d="M-63.14 -25.25A68 68 0 0 1 -57.79 -35.83L-50.14 -31.09A59 59 0 0 0 -54.78 -21.91Z" fill="#d6cfa1"/><path d="M-57.79 -35.83A68 68 0 0 1 -50.85 -45.15L-44.12 -39.17A59 59 0 0 0 -50.14 -31.09Z" fill="#5bc4bc"/><path d="M-50.85 -45.15A68 68 0 0 1 -42.89 -52.77L-37.21 -45.79A59 59 0 0 0 -44.12 -39.17Z" fill="#7a7639"/><path d="M-42.89 -52.77A68 68 0 0 1 -34.61 -58.53L-30.03 -50.78A59 59 0 0 0 -37.21 -45.79Z" fill="#a3c9ec"/><path d="M-34.61 -58.53A68 68 0 0 1 -1.19 -67.99L-1.03 -58.99A59 59 0 0 0 -30.03 -50.78Z" fill="#b3b3b3"/><path d="M-1.19 -67.99A68 68 0 0 1 -0 -68L-0 -59A59 59 0 0 0 -1.03 -58.99Z" fill="#5bc4bc"/><text transform="translate(4.76 -40.22) rotate(-83.25)" text-anchor="middle" font-size="7.200" fill="#444" dy="2.500" font-family="Liberation Sans">2</text><text transform="translate(13.35 -38.24) rotate(-70.75)" text-anchor="middle" font-size="7.200" fill="#444" dy="2.500" font-family="Liberation Sans">2</text><text transform="translate(21.91 -34.06) rotate(-57.25)" text-anchor="middle" font-size="7.200" fill="#444" dy="2.500" font-family="Liberation Sans">2</text><text transform="translate(29.01 -28.26) rotate(-44.25)" text-anchor="middle" font-size="7.200" fill="#444" dy="2.500" font-family="Liberation Sans">2</text><text transform="translate(34.62 -21.01) rotate(-31.25)" text-anchor="middle" font-size="7.200" fill="#444" dy="2.500" font-family="Liberation Sans">2</text><text transform="translate(38.46 -12.68) rotate(-18.25)" text-anchor="middle" font-size="7.200" fill="#444" dy="2.500" font-family="Liberation Sans">2</text><text transform="translate(40.29 -4.09) rotate(-5.8)" text-anchor="middle" font-size="7.200" fill="#444" dy="2.500" font-family="Liberation Sans">2</text><text transform="translate(40.29 4.09) rotate(5.8)" text-anchor="middle" font-size="7.200" fill="#444" dy="2.500" font-family="Liberation Sans">2</text><text transform="translate(38.84 11.47) rotate(16.45)" text-anchor="middle" font-size="7.200" fill="#444" dy="2.500" font-family="Liberation Sans">2</text><text transform="translate(36.05 18.45) rotate(27.1)" text-anchor="middle" font-size="7.200" fill="#444" dy="2.500" font-family="Liberation Sans">2</text><text transform="translate(31.81 25.07) rotate(38.25)" text-anchor="middle" font-size="7.200" fill="#444" dy="2.500" font-family="Liberation Sans">2</text><text transform="translate(25.76 31.25) rotate(50.5)" text-anchor="middle" font-size="7.200" fill="#444" dy="2.500" font-family="Liberation Sans">2</text><text transform="translate(18.39 36.09) rotate(63)" text-anchor="middle" font-size="7.200" fill="#444" dy="2.500" font-family="Liberation Sans">2</text><text transform="translate(10.89 39.01) rotate(74.4)" text-anchor="middle" font-size="7.200" fill="#444" dy="2.500" font-family="Liberation Sans">2</text><text transform="translate(3.46 40.35) rotate(85.1)" text-anchor="middle" font-size="7.200" fill="#444" dy="2.500" font-family="Liberation Sans">2</text><text transform="translate(-3.99 40.3) rotate(-84.35)" text-anchor="middle" font-size="7.200" fill="#444" dy="2.500" font-family="Liberation Sans">2</text><text transform="translate(-11.4 38.86) rotate(-73.65)" text-anchor="middle" font-size="7.200" fill="#444" dy="2.500" font-family="Liberation Sans">2</text><text transform="translate(-18.64 35.96) rotate(-62.6)" text-anchor="middle" font-size="7.200" fill="#444" dy="2.500" font-family="Liberation Sans">2</text><text transform="translate(-25.16 31.74) rotate(-51.6)" text-anchor="middle" font-size="7.200" fill="#444" dy="2.500" font-family="Liberation Sans">2</text><text transform="translate(-30.68 26.44) rotate(-40.75)" text-anchor="middle" font-size="7.200" fill="#444" dy="2.500" font-family="Liberation Sans">2</text><text transform="translate(-34.91 20.52) rotate(-30.45)" text-anchor="middle" font-size="7.200" fill="#444" dy="2.500" font-family="Liberation Sans">2</text><text transform="translate(-37.82 14.48) rotate(-20.95)" text-anchor="middle" font-size="7.200" fill="#444" dy="2.500" font-family="Liberation Sans">2</text><text transform="translate(-39.71 7.94) rotate(-11.3)" text-anchor="middle" font-size="7.200" fill="#444" dy="2.500" font-family="Liberation Sans">2</text><text transform="translate(-40.48 1.24) rotate(-1.75)" text-anchor="middle" font-size="7.200" fill="#444" dy="2.500" font-family="Liberation Sans">2</text><text transform="translate(-40.14 -5.39) rotate(7.65)" text-anchor="middle" font-size="7.200" fill="#444" dy="2.500" font-family="Liberation Sans">2</text><text transform="translate(-38.7 -11.94) rotate(17.15)" text-anchor="middle" font-size="7.200" fill="#444" dy="2.500" font-family="Liberation Sans">2</text><text transform="translate(-36.15 -18.26) rotate(26.8)" text-anchor="middle" font-size="7.200" fill="#444" dy="2.500" font-family="Liberation Sans">2</text><text transform="translate(-32.47 -24.2) rotate(36.7)" text-anchor="middle" font-size="7.200" fill="#444" dy="2.500" font-family="Liberation Sans">2</text><text transform="translate(-28.01 -29.26) rotate(46.25)" text-anchor="middle" font-size="7.200" fill="#444" dy="2.500" font-family="Liberation Sans">2</text><text transform="translate(-23.14 -33.24) rotate(55.15)" text-anchor="middle" font-size="7.200" fill="#444" dy="2.500" font-family="Liberation Sans">1</text><text transform="translate(-11.03 -38.97) rotate(74.2)" text-anchor="middle" font-size="7.200" fill="#444" dy="2.500" font-family="Liberation Sans">5</text></svg>
<svg class="abs" style="left:337px;top:141px" width="140" height="140" viewBox="-70 -70 140 140"><path d="M0 -68A68 68 0 0 1 51.32 44.61L9.96 8.66A13.2 13.2 0 0 0 0 -13.2Z" fill="#b3b3b3"/><path d="M51.32 44.61A68 68 0 0 1 -12.98 66.75L-2.52 12.96A13.2 13.2 0 0 0 9.96 8.66Z" fill="#5bc4bc"/><path d="M-12.98 66.75A68 68 0 0 1 -62.36 27.11L-12.11 5.26A13.2 13.2 0 0 0 -2.52 12.96Z" fill="#f070ab"/><path d="M-62.36 27.11A68 68 0 0 1 -66.97 -11.81L-13 -2.29A13.2 13.2 0 0 0 -12.11 5.26Z" fill="#7a7639"/><path d="M-66.97 -11.81A68 68 0 0 1 -48.08 -48.08L-9.33 -9.33A13.2 13.2 0 0 0 -13 -2.29Z" fill="#d19d51"/><path d="M-48.08 -48.08A68 68 0 0 1 -23.81 -63.69L-4.62 -12.36A13.2 13.2 0 0 0 -9.33 -9.33Z" fill="#a3c9ec"/><path d="M-23.81 -63.69A68 68 0 0 1 -2.37 -67.96L-0.46 -13.19A13.2 13.2 0 0 0 -4.62 -12.36Z" fill="#d6cfa1"/><path d="M-2.37 -67.96A68 68 0 0 1 -0 -68L-0 -13.2A13.2 13.2 0 0 0 -0.46 -13.19Z" fill="#5bc4bc"/><text transform="translate(26.39 -12.03) rotate(-24.5)" text-anchor="middle" font-size="8" fill="#333" dy="2.800" font-family="Liberation Sans">37%</text><text transform="translate(9.44 27.42) rotate(71)" text-anchor="middle" font-size="8" fill="#333" dy="2.800" font-family="Liberation Sans">17%</text><text transform="translate(-18.15 22.62) rotate(-51.25)" text-anchor="middle" font-size="8" fill="#333" dy="2.800" font-family="Liberation Sans">15%</text><text transform="translate(-28.8 3.41) rotate(-6.75)" text-anchor="middle" font-size="8" fill="#333" dy="2.800" font-family="Liberation Sans">10%</text><text transform="translate(-25.72 -13.39) rotate(27.5)" text-anchor="middle" font-size="8" fill="#333" dy="2.800" font-family="Liberation Sans">9%</text><text transform="translate(-15.69 -24.39) rotate(57.25)" text-anchor="middle" font-size="8" fill="#333" dy="2.800" font-family="Liberation Sans">7%</text><text transform="translate(-5.66 -28.44) rotate(78.75)" text-anchor="middle" font-size="8" fill="#333" dy="2.800" font-family="Liberation Sans">5%</text></svg>
<div class="abs tt" style="left:34px">Top Talkers</div>
<div class="abs tt" style="left:186px;letter-spacing:-.1px">Top Connections</div>
<div class="abs tt" style="left:338px">Top Protocols</div>
<svg class="abs" style="left:118px;top:281px" width="14" height="14" viewBox="0 0 14 14"><path fill-rule="evenodd" fill="#bcbcc2" d="M7.61 1.1L7.93 0.15L10.27 0.15L10.59 1.1L10.59 1.1L11.49 0.65L13.15 2.31L12.7 3.21L12.7 3.21L13.65 3.53L13.65 5.87L12.7 6.19L12.7 6.19L13.15 7.09L11.49 8.75L10.59 8.3L10.59 8.3L10.27 9.25L7.93 9.25L7.61 8.3L7.61 8.3L6.71 8.75L5.05 7.09L5.5 6.19L5.5 6.19L4.55 5.87L4.55 3.53L5.5 3.21L5.5 3.21L5.05 2.31L6.71 0.65L7.61 1.1ZM7.2 4.7a1.9 1.9 0 1 0 3.8 0a1.9 1.9 0 1 0 -3.8 0Z"/><path fill-rule="evenodd" fill="#bcbcc2" d="M2.52 8.28L2.68 7.59L4.12 7.59L4.28 8.28L4.28 8.28L4.88 7.9L5.9 8.92L5.52 9.52L5.52 9.52L6.21 9.68L6.21 11.12L5.52 11.28L5.52 11.28L5.9 11.88L4.88 12.9L4.28 12.52L4.28 12.52L4.12 13.21L2.68 13.21L2.52 12.52L2.52 12.52L1.92 12.9L0.9 11.88L1.28 11.28L1.28 11.28L0.59 11.12L0.59 9.68L1.28 9.52L1.28 9.52L0.9 8.92L1.92 7.9L2.52 8.28ZM2.6 10.4a0.8 0.8 0 1 0 1.6 0a0.8 0.8 0 1 0 -1.6 0Z"/></svg>
<svg class="abs" style="left:138.4px;top:281.500px" width="10.600" height="12" viewBox="0 0 10.600 12"><g fill="none" stroke="#bcbcc2" stroke-width="1.100"><path d="M0 2.500h10.600M3.500 2.300V.9h3.600v1.400M1.300 2.800l.4 8.200h7.200l.4-8.200"/><path d="M3.700 4.300v5.200M5.300 4.300v5.200M6.900 4.300v5.200" stroke-width=".9"/></g></svg>
<svg class="abs" style="left:156px;top:280.800px" width="13" height="12" viewBox="0 0 13 12"><g fill="none" stroke="#bcbcc2" stroke-width="1.400"><path d="M9.800 7v3.400a1.200 1.200 0 0 1-1.200 1.200H1.900a1.200 1.200 0 0 1-1.200-1.200V3.900a1.200 1.200 0 0 1 1.200-1.200H6"/><path d="M5.300 7.700L11 2" stroke-width="1.700"/><path d="M7.300.2H13V5.900z" fill="#bcbcc2" stroke="none"/></g></svg>
<div class="abs ln" style="left:34px;top:297px;width:138px"></div>
<svg class="abs" style="left:270px;top:281px" width="14" height="14" viewBox="0 0 14 14"><path fill-rule="evenodd" fill="#bcbcc2" d="M7.61 1.1L7.93 0.15L10.27 0.15L10.59 1.1L10.59 1.1L11.49 0.65L13.15 2.31L12.7 3.21L12.7 3.21L13.65 3.53L13.65 5.87L12.7 6.19L12.7 6.19L13.15 7.09L11.49 8.75L10.59 8.3L10.59 8.3L10.27 9.25L7.93 9.25L7.61 8.3L7.61 8.3L6.71 8.75L5.05 7.09L5.5 6.19L5.5 6.19L4.55 5.87L4.55 3.53L5.5 3.21L5.5 3.21L5.05 2.31L6.71 0.65L7.61 1.1ZM7.2 4.7a1.9 1.9 0 1 0 3.8 0a1.9 1.9 0 1 0 -3.8 0Z"/><path fill-rule="evenodd" fill="#bcbcc2" d="M2.52 8.28L2.68 7.59L4.12 7.59L4.28 8.28L4.28 8.28L4.88 7.9L5.9 8.92L5.52 9.52L5.52 9.52L6.21 9.68L6.21 11.12L5.52 11.28L5.52 11.28L5.9 11.88L4.88 12.9L4.28 12.52L4.28 12.52L4.12 13.21L2.68 13.21L2.52 12.52L2.52 12.52L1.92 12.9L0.9 11.88L1.28 11.28L1.28 11.28L0.59 11.12L0.59 9.68L1.28 9.52L1.28 9.52L0.9 8.92L1.92 7.9L2.52 8.28ZM2.6 10.4a0.8 0.8 0 1 0 1.6 0a0.8 0.8 0 1 0 -1.6 0Z"/></svg>
<svg class="abs" style="left:290.4px;top:281.500px" width="10.600" height="12" viewBox="0 0 10.600 12"><g fill="none" stroke="#bcbcc2" stroke-width="1.100"><path d="M0 2.500h10.600M3.500 2.300V.9h3.600v1.400M1.300 2.800l.4 8.200h7.200l.4-8.200"/><path d="M3.700 4.300v5.200M5.300 4.300v5.200M6.900 4.300v5.200" stroke-width=".9"/></g></svg>
<svg class="abs" style="left:308px;top:280.800px" width="13" height="12" viewBox="0 0 13 12"><g fill="none" stroke="#bcbcc2" stroke-width="1.400"><path d="M9.800 7v3.400a1.200 1.200 0 0 1-1.200 1.200H1.900a1.200 1.200 0 0 1-1.200-1.200V3.900a1.200 1.200 0 0 1 1.200-1.200H6"/><path d="M5.300 7.700L11 2" stroke-width="1.700"/><path d="M7.300.2H13V5.900z" fill="#bcbcc2" stroke="none"/></g></svg>
<div class="abs ln" style="left:186px;top:297px;width:138px"></div>
<svg class="abs" style="left:422px;top:281px" width="14" height="14" viewBox="0 0 14 14"><path fill-rule="evenodd" fill="#bcbcc2" d="M7.61 1.1L7.93 0.15L10.27 0.15L10.59 1.1L10.59 1.1L11.49 0.65L13.15 2.31L12.7 3.21L12.7 3.21L13.65 3.53L13.65 5.87L12.7 6.19L12.7 6.19L13.15 7.09L11.49 8.75L10.59 8.3L10.59 8.3L10.27 9.25L7.93 9.25L7.61 8.3L7.61 8.3L6.71 8.75L5.05 7.09L5.5 6.19L5.5 6.19L4.55 5.87L4.55 3.53L5.5 3.21L5.5 3.21L5.05 2.31L6.71 0.65L7.61 1.1ZM7.2 4.7a1.9 1.9 0 1 0 3.8 0a1.9 1.9 0 1 0 -3.8 0Z"/><path fill-rule="evenodd" fill="#bcbcc2" d="M2.52 8.28L2.68 7.59L4.12 7.59L4.28 8.28L4.28 8.28L4.88 7.9L5.9 8.92L5.52 9.52L5.52 9.52L6.21 9.68L6.21 11.12L5.52 11.28L5.52 11.28L5.9 11.88L4.88 12.9L4.28 12.52L4.28 12.52L4.12 13.21L2.68 13.21L2.52 12.52L2.52 12.52L1.92 12.9L0.9 11.88L1.28 11.28L1.28 11.28L0.59 11.12L0.59 9.68L1.28 9.52L1.28 9.52L0.9 8.92L1.92 7.9L2.52 8.28ZM2.6 10.4a0.8 0.8 0 1 0 1.6 0a0.8 0.8 0 1 0 -1.6 0Z"/></svg>
<svg class="abs" style="left:442.4px;top:281.500px" width="10.600" height="12" viewBox="0 0 10.600 12"><g fill="none" stroke="#bcbcc2" stroke-width="1.100"><path d="M0 2.500h10.600M3.500 2.300V.9h3.600v1.400M1.300 2.800l.4 8.200h7.200l.4-8.200"/><path d="M3.700 4.300v5.200M5.300 4.300v5.200M6.900 4.300v5.200" stroke-width=".9"/></g></svg>
<svg class="abs" style="left:460px;top:280.800px" width="13" height="12" viewBox="0 0 13 12"><g fill="none" stroke="#bcbcc2" stroke-width="1.400"><path d="M9.800 7v3.400a1.200 1.200 0 0 1-1.200 1.200H1.900a1.200 1.200 0 0 1-1.200-1.200V3.900a1.200 1.200 0 0 1 1.200-1.200H6"/><path d="M5.300 7.700L11 2" stroke-width="1.700"/><path d="M7.300.2H13V5.900z" fill="#bcbcc2" stroke="none"/></g></svg>
<div class="abs ln" style="left:338px;top:297px;width:138px"></div>
<div class="abs" style="left:829px;top:310px;width:78px;height:28px;background:#0f9fd8;color:#fff;font-size:13px;line-height:28px;text-align:center;-webkit-text-stroke:.3px #fff">Add Toplist</div>
<div class="abs" style="left:39px;top:367px;font-size:13.600px;line-height:16px;color:#444;-webkit-text-stroke:.25px #444">Total</div>
<svg class="abs" style="left:140px;top:375px" width="200" height="150" viewBox="140 375 200 150"><path d="M178.02 525.98A82 82 0 1 1 293.98 525.98L275.77 507.77A58 58 0 1 0 185.02 518.98Z" fill="#b7c31a"/><g transform="translate(236 468) rotate(265.2)"><path d="M0 -84.5 L4 6.5 Q4 9.5 0 9.5 Q-4 9.5 -4 6.5 Z" fill="#777"/></g></svg>
<div class="abs" style="left:39px;top:553px;font-size:14px;line-height:16px;color:#444;-webkit-text-stroke:.3px #444;letter-spacing:-.1px">0.01 Mbit/s</div>
<div class="abs" style="left:161px;top:545px;font-size:12px;line-height:14px;color:#333;letter-spacing:.25px">0 Mbit/s</div>
<div class="abs" style="left:259px;top:545px;font-size:12px;line-height:14px;color:#333;letter-spacing:.1px">0.07 Mbit/s</div>
<svg class="abs" style="left:311.5px;top:559px" width="23.4" height="11.05" viewBox="0 0 18 8.500"><path fill-rule="evenodd" fill="#d4d4d9" d="M2.77 1.02L2.91 -0.01L4.59 -0.01L4.73 1.02L4.99 1.13L5.81 0.5L7 1.69L6.37 2.51L6.48 2.77L7.51 2.91L7.51 4.59L6.48 4.73L6.37 4.99L7 5.81L5.81 7L4.99 6.37L4.73 6.48L4.59 7.51L2.91 7.51L2.77 6.48L2.51 6.37L1.69 7L0.5 5.81L1.13 4.99L1.02 4.73L-0.01 4.59L-0.01 2.91L1.02 2.77L1.13 2.51L0.5 1.69L1.69 0.5L2.51 1.13ZM2.5 3.75a1.25 1.25 0 1 0 2.5 0a1.25 1.25 0 1 0 -2.5 0Z"/><path fill="#d4d4d9" d="M11.9 0h4.800v1l-.9.600v2.300l1.500 1.400v.900h-2.500l-.500 1.900-.500-1.900h-2.500v-.900l1.500-1.400v-2.300l-.9-.600z"/></svg>
<div class="abs ln" style="left:34px;top:572px;width:301px"></div>
<div class="abs gt" style="left:346px;top:366.5px">Chat</div>
<div class="abs gv" style="left:346px;top:410.2px">&lt; 0.01 Mbit/s</div>
<svg class="abs" style="left:426px;top:375px" width="60" height="50" viewBox="426 375 60 50"><path d="M441.08 414.92A21.1 21.1 0 1 1 470.92 414.92L466.23 410.23A14.92 14.92 0 1 0 442.88 413.12Z" fill="#b7c31a"/><g transform="translate(456 400) rotate(263)"><path d="M-2.2 -22.6 L2.2 -22.6 L0 -18.3 Z" fill="#fff"/></g><g transform="translate(456 400) rotate(240)"><path d="M0 -21.6 L0.9 2.4 L-0.9 2.4 Z" fill="#666" stroke="#666" stroke-width="0.3"/></g></svg>
<svg class="abs" style="left:470.2px;top:415.9px" width="18" height="8.5" viewBox="0 0 18 8.500"><path fill-rule="evenodd" fill="#d4d4d9" d="M2.77 1.02L2.91 -0.01L4.59 -0.01L4.73 1.02L4.99 1.13L5.81 0.5L7 1.69L6.37 2.51L6.48 2.77L7.51 2.91L7.51 4.59L6.48 4.73L6.37 4.99L7 5.81L5.81 7L4.99 6.37L4.73 6.48L4.59 7.51L2.91 7.51L2.77 6.48L2.51 6.37L1.69 7L0.5 5.81L1.13 4.99L1.02 4.73L-0.01 4.59L-0.01 2.91L1.02 2.77L1.13 2.51L0.5 1.69L1.69 0.5L2.51 1.13ZM2.5 3.75a1.25 1.25 0 1 0 2.5 0a1.25 1.25 0 1 0 -2.5 0Z"/><path fill="#d4d4d9" d="M11.9 0h4.800v1l-.9.600v2.300l1.500 1.400v.900h-2.500l-.500 1.900-.500-1.900h-2.500v-.900l1.500-1.400v-2.300l-.9-.600z"/></svg>
<div class="abs ln" style="left:341px;top:426px;width:148px"></div>
<div class="abs gt" style="left:500px;top:366.5px">Citrix</div>
<div class="abs gv" style="left:500px;top:410.2px">0 Mbit/s</div>
<svg class="abs" style="left:580px;top:375px" width="60" height="50" viewBox="580 375 60 50"><path d="M595.08 414.92A21.1 21.1 0 1 1 624.92 414.92L620.23 410.23A14.92 14.92 0 1 0 596.88 413.12Z" fill="#b7c31a"/><g transform="translate(610 400) rotate(263)"><path d="M-2.2 -22.6 L2.2 -22.6 L0 -18.3 Z" fill="#fff"/></g><g transform="translate(610 400) rotate(225)"><path d="M0 -21.6 L0.9 2.4 L-0.9 2.4 Z" fill="#666" stroke="#666" stroke-width="0.3"/></g></svg>
<svg class="abs" style="left:624.2px;top:415.9px" width="18" height="8.5" viewBox="0 0 18 8.500"><path fill-rule="evenodd" fill="#d4d4d9" d="M2.77 1.02L2.91 -0.01L4.59 -0.01L4.73 1.02L4.99 1.13L5.81 0.5L7 1.69L6.37 2.51L6.48 2.77L7.51 2.91L7.51 4.59L6.48 4.73L6.37 4.99L7 5.81L5.81 7L4.99 6.37L4.73 6.48L4.59 7.51L2.91 7.51L2.77 6.48L2.51 6.37L1.69 7L0.5 5.81L1.13 4.99L1.02 4.73L-0.01 4.59L-0.01 2.91L1.02 2.77L1.13 2.51L0.5 1.69L1.69 0.5L2.51 1.13ZM2.5 3.75a1.25 1.25 0 1 0 2.5 0a1.25 1.25 0 1 0 -2.5 0Z"/><path fill="#d4d4d9" d="M11.9 0h4.800v1l-.9.600v2.300l1.500 1.400v.900h-2.500l-.500 1.900-.500-1.900h-2.500v-.900l1.500-1.400v-2.300l-.9-.600z"/></svg>
<div class="abs ln" style="left:495px;top:426px;width:148px"></div>
<div class="abs gt" style="left:654px;top:366.5px">FTP/P2P</div>
<div class="abs gv" style="left:654px;top:410.2px">&lt; 0.01 Mbit/s</div>
<svg class="abs" style="left:734px;top:375px" width="60" height="50" viewBox="734 375 60 50"><path d="M749.08 414.92A21.1 21.1 0 1 1 778.92 414.92L774.23 410.23A14.92 14.92 0 1 0 750.88 413.12Z" fill="#b7c31a"/><g transform="translate(764 400) rotate(263)"><path d="M-2.2 -22.6 L2.2 -22.6 L0 -18.3 Z" fill="#fff"/></g><g transform="translate(764 400) rotate(268)"><path d="M0 -21.6 L0.9 2.4 L-0.9 2.4 Z" fill="#666" stroke="#666" stroke-width="0.3"/></g></svg>
<svg class="abs" style="left:778.2px;top:415.9px" width="18" height="8.5" viewBox="0 0 18 8.500"><path fill-rule="evenodd" fill="#d4d4d9" d="M2.77 1.02L2.91 -0.01L4.59 -0.01L4.73 1.02L4.99 1.13L5.81 0.5L7 1.69L6.37 2.51L6.48 2.77L7.51 2.91L7.51 4.59L6.48 4.73L6.37 4.99L7 5.81L5.81 7L4.99 6.37L4.73 6.48L4.59 7.51L2.91 7.51L2.77 6.48L2.51 6.37L1.69 7L0.5 5.81L1.13 4.99L1.02 4.73L-0.01 4.59L-0.01 2.91L1.02 2.77L1.13 2.51L0.5 1.69L1.69 0.5L2.51 1.13ZM2.5 3.75a1.25 1.25 0 1 0 2.5 0a1.25 1.25 0 1 0 -2.5 0Z"/><path fill="#d4d4d9" d="M11.9 0h4.800v1l-.9.600v2.300l1.500 1.400v.900h-2.500l-.500 1.900-.500-1.900h-2.500v-.900l1.500-1.400v-2.300l-.9-.600z"/></svg>
<div class="abs ln" style="left:649px;top:426px;width:148px"></div>
<div class="abs gt" style="left:346px;top:439.5px">Infrastructure</div>
<div class="abs gv" style="left:346px;top:483.2px">0 Mbit/s</div>
<svg class="abs" style="left:426px;top:448px" width="60" height="50" viewBox="426 448 60 50"><path d="M441.08 487.92A21.1 21.1 0 1 1 470.92 487.92L466.23 483.23A14.92 14.92 0 1 0 442.88 486.12Z" fill="#b7c31a"/><g transform="translate(456 473) rotate(263)"><path d="M-2.2 -22.6 L2.2 -22.6 L0 -18.3 Z" fill="#fff"/></g><g transform="translate(456 473) rotate(225)"><path d="M0 -21.6 L0.9 2.4 L-0.9 2.4 Z" fill="#666" stroke="#666" stroke-width="0.3"/></g></svg>
<svg class="abs" style="left:470.2px;top:488.9px" width="18" height="8.5" viewBox="0 0 18 8.500"><path fill-rule="evenodd" fill="#d4d4d9" d="M2.77 1.02L2.91 -0.01L4.59 -0.01L4.73 1.02L4.99 1.13L5.81 0.5L7 1.69L6.37 2.51L6.48 2.77L7.51 2.91L7.51 4.59L6.48 4.73L6.37 4.99L7 5.81L5.81 7L4.99 6.37L4.73 6.48L4.59 7.51L2.91 7.51L2.77 6.48L2.51 6.37L1.69 7L0.5 5.81L1.13 4.99L1.02 4.73L-0.01 4.59L-0.01 2.91L1.02 2.77L1.13 2.51L0.5 1.69L1.69 0.5L2.51 1.13ZM2.5 3.75a1.25 1.25 0 1 0 2.5 0a1.25 1.25 0 1 0 -2.5 0Z"/><path fill="#d4d4d9" d="M11.9 0h4.800v1l-.9.600v2.300l1.500 1.400v.900h-2.500l-.500 1.900-.500-1.900h-2.500v-.900l1.500-1.400v-2.300l-.9-.600z"/></svg>
<div class="abs ln" style="left:341px;top:499px;width:148px"></div>
<div class="abs gt" style="left:500px;top:439.5px">Mail</div>
<div class="abs gv" style="left:500px;top:483.2px">&lt; 0.01 Mbit/s</div>
<svg class="abs" style="left:580px;top:448px" width="60" height="50" viewBox="580 448 60 50"><path d="M595.08 487.92A21.1 21.1 0 1 1 624.92 487.92L620.23 483.23A14.92 14.92 0 1 0 596.88 486.12Z" fill="#b7c31a"/><g transform="translate(610 473) rotate(263)"><path d="M-2.2 -22.6 L2.2 -22.6 L0 -18.3 Z" fill="#fff"/></g><g transform="translate(610 473) rotate(351.5)"><path d="M0 -21.6 L0.9 2.4 L-0.9 2.4 Z" fill="#666" stroke="#666" stroke-width="0.3"/></g></svg>
<svg class="abs" style="left:624.2px;top:488.9px" width="18" height="8.5" viewBox="0 0 18 8.500"><path fill-rule="evenodd" fill="#d4d4d9" d="M2.77 1.02L2.91 -0.01L4.59 -0.01L4.73 1.02L4.99 1.13L5.81 0.5L7 1.69L6.37 2.51L6.48 2.77L7.51 2.91L7.51 4.59L6.48 4.73L6.37 4.99L7 5.81L5.81 7L4.99 6.37L4.73 6.48L4.59 7.51L2.91 7.51L2.77 6.48L2.51 6.37L1.69 7L0.5 5.81L1.13 4.99L1.02 4.73L-0.01 4.59L-0.01 2.91L1.02 2.77L1.13 2.51L0.5 1.69L1.69 0.5L2.51 1.13ZM2.5 3.75a1.25 1.25 0 1 0 2.5 0a1.25 1.25 0 1 0 -2.5 0Z"/><path fill="#d4d4d9" d="M11.9 0h4.800v1l-.9.600v2.300l1.500 1.400v.900h-2.500l-.500 1.900-.500-1.900h-2.500v-.900l1.500-1.400v-2.300l-.9-.600z"/></svg>
<div class="abs ln" style="left:495px;top:499px;width:148px"></div>
<div class="abs gt" style="left:654px;top:439.5px">NetBIOS</div>
<div class="abs gv" style="left:654px;top:483.2px">&lt; 0.01 Mbit/s</div>
<svg class="abs" style="left:734px;top:448px" width="60" height="50" viewBox="734 448 60 50"><path d="M749.08 487.92A21.1 21.1 0 1 1 778.92 487.92L774.23 483.23A14.92 14.92 0 1 0 750.88 486.12Z" fill="#b7c31a"/><g transform="translate(764 473) rotate(263)"><path d="M-2.2 -22.6 L2.2 -22.6 L0 -18.3 Z" fill="#fff"/></g><g transform="translate(764 473) rotate(240)"><path d="M0 -21.6 L0.9 2.4 L-0.9 2.4 Z" fill="#666" stroke="#666" stroke-width="0.3"/></g></svg>
<svg class="abs" style="left:778.2px;top:488.9px" width="18" height="8.5" viewBox="0 0 18 8.500"><path fill-rule="evenodd" fill="#d4d4d9" d="M2.77 1.02L2.91 -0.01L4.59 -0.01L4.73 1.02L4.99 1.13L5.81 0.5L7 1.69L6.37 2.51L6.48 2.77L7.51 2.91L7.51 4.59L6.48 4.73L6.37 4.99L7 5.81L5.81 7L4.99 6.37L4.73 6.48L4.59 7.51L2.91 7.51L2.77 6.48L2.51 6.37L1.69 7L0.5 5.81L1.13 4.99L1.02 4.73L-0.01 4.59L-0.01 2.91L1.02 2.77L1.13 2.51L0.5 1.69L1.69 0.5L2.51 1.13ZM2.5 3.75a1.25 1.25 0 1 0 2.5 0a1.25 1.25 0 1 0 -2.5 0Z"/><path fill="#d4d4d9" d="M11.9 0h4.800v1l-.9.600v2.300l1.500 1.400v.900h-2.500l-.500 1.900-.500-1.900h-2.500v-.900l1.500-1.400v-2.300l-.9-.600z"/></svg>
<div class="abs ln" style="left:649px;top:499px;width:148px"></div>
<div class="abs gt" style="left:346px;top:512.5px">Other</div>
<div class="abs gv" style="left:346px;top:556.2px">0 Mbit/s</div>
<svg class="abs" style="left:426px;top:521px" width="60" height="50" viewBox="426 521 60 50"><path d="M441.08 560.92A21.1 21.1 0 1 1 470.92 560.92L466.23 556.23A14.92 14.92 0 1 0 442.88 559.12Z" fill="#b7c31a"/><g transform="translate(456 546) rotate(263)"><path d="M-2.2 -22.6 L2.2 -22.6 L0 -18.3 Z" fill="#fff"/></g><g transform="translate(456 546) rotate(225)"><path d="M0 -21.6 L0.9 2.4 L-0.9 2.4 Z" fill="#666" stroke="#666" stroke-width="0.3"/></g></svg>
<svg class="abs" style="left:470.2px;top:561.9px" width="18" height="8.5" viewBox="0 0 18 8.500"><path fill-rule="evenodd" fill="#d4d4d9" d="M2.77 1.02L2.91 -0.01L4.59 -0.01L4.73 1.02L4.99 1.13L5.81 0.5L7 1.69L6.37 2.51L6.48 2.77L7.51 2.91L7.51 4.59L6.48 4.73L6.37 4.99L7 5.81L5.81 7L4.99 6.37L4.73 6.48L4.59 7.51L2.91 7.51L2.77 6.48L2.51 6.37L1.69 7L0.5 5.81L1.13 4.99L1.02 4.73L-0.01 4.59L-0.01 2.91L1.02 2.77L1.13 2.51L0.5 1.69L1.69 0.5L2.51 1.13ZM2.5 3.75a1.25 1.25 0 1 0 2.5 0a1.25 1.25 0 1 0 -2.5 0Z"/><path fill="#d4d4d9" d="M11.9 0h4.800v1l-.9.600v2.300l1.500 1.400v.900h-2.500l-.500 1.900-.500-1.900h-2.500v-.900l1.500-1.400v-2.300l-.9-.600z"/></svg>
<div class="abs ln" style="left:341px;top:572px;width:148px"></div>
<div class="abs gt" style="left:500px;top:512.5px">Remote Control</div>
<div class="abs gv" style="left:500px;top:556.2px">0 Mbit/s</div>
<svg class="abs" style="left:580px;top:521px" width="60" height="50" viewBox="580 521 60 50"><path d="M595.08 560.92A21.1 21.1 0 1 1 624.92 560.92L620.23 556.23A14.92 14.92 0 1 0 596.88 559.12Z" fill="#b7c31a"/><g transform="translate(610 546) rotate(263)"><path d="M-2.2 -22.6 L2.2 -22.6 L0 -18.3 Z" fill="#fff"/></g><g transform="translate(610 546) rotate(225)"><path d="M0 -21.6 L0.9 2.4 L-0.9 2.4 Z" fill="#666" stroke="#666" stroke-width="0.3"/></g></svg>
<svg class="abs" style="left:624.2px;top:561.9px" width="18" height="8.5" viewBox="0 0 18 8.500"><path fill-rule="evenodd" fill="#d4d4d9" d="M2.77 1.02L2.91 -0.01L4.59 -0.01L4.73 1.02L4.99 1.13L5.81 0.5L7 1.69L6.37 2.51L6.48 2.77L7.51 2.91L7.51 4.59L6.48 4.73L6.37 4.99L7 5.81L5.81 7L4.99 6.37L4.73 6.48L4.59 7.51L2.91 7.51L2.77 6.48L2.51 6.37L1.69 7L0.5 5.81L1.13 4.99L1.02 4.73L-0.01 4.59L-0.01 2.91L1.02 2.77L1.13 2.51L0.5 1.69L1.69 0.5L2.51 1.13ZM2.5 3.75a1.25 1.25 0 1 0 2.5 0a1.25 1.25 0 1 0 -2.5 0Z"/><path fill="#d4d4d9" d="M11.9 0h4.800v1l-.9.600v2.300l1.500 1.400v.900h-2.500l-.500 1.900-.500-1.900h-2.500v-.900l1.500-1.400v-2.300l-.9-.600z"/></svg>
<div class="abs ln" style="left:495px;top:572px;width:148px"></div>
<div class="abs gt" style="left:654px;top:512.5px">Various</div>
<div class="abs gv" style="left:654px;top:556.2px">&lt; 0.01 Mbit/s</div>
<svg class="abs" style="left:734px;top:521px" width="60" height="50" viewBox="734 521 60 50"><path d="M749.08 560.92A21.1 21.1 0 1 1 778.92 560.92L774.23 556.23A14.92 14.92 0 1 0 750.88 559.12Z" fill="#b7c31a"/><g transform="translate(764 546) rotate(263)"><path d="M-2.2 -22.6 L2.2 -22.6 L0 -18.3 Z" fill="#fff"/></g><g transform="translate(764 546) rotate(288)"><path d="M0 -21.6 L0.9 2.4 L-0.9 2.4 Z" fill="#666" stroke="#666" stroke-width="0.3"/></g></svg>
<svg class="abs" style="left:778.2px;top:561.9px" width="18" height="8.5" viewBox="0 0 18 8.500"><path fill-rule="evenodd" fill="#d4d4d9" d="M2.77 1.02L2.91 -0.01L4.59 -0.01L4.73 1.02L4.99 1.13L5.81 0.5L7 1.69L6.37 2.51L6.48 2.77L7.51 2.91L7.51 4.59L6.48 4.73L6.37 4.99L7 5.81L5.81 7L4.99 6.37L4.73 6.48L4.59 7.51L2.91 7.51L2.77 6.48L2.51 6.37L1.69 7L0.5 5.81L1.13 4.99L1.02 4.73L-0.01 4.59L-0.01 2.91L1.02 2.77L1.13 2.51L0.5 1.69L1.69 0.5L2.51 1.13ZM2.5 3.75a1.25 1.25 0 1 0 2.5 0a1.25 1.25 0 1 0 -2.5 0Z"/><path fill="#d4d4d9" d="M11.9 0h4.800v1l-.9.600v2.300l1.500 1.400v.900h-2.500l-.500 1.900-.500-1.900h-2.500v-.900l1.500-1.400v-2.300l-.9-.600z"/></svg>
<div class="abs ln" style="left:649px;top:572px;width:148px"></div>
<div class="abs gt" style="left:39px;top:585.5px">WWW</div>
<div class="abs gv" style="left:39px;top:629.2px">&lt; 0.01 Mbit/s</div>
<svg class="abs" style="left:119px;top:594px" width="60" height="50" viewBox="119 594 60 50"><path d="M134.08 633.92A21.1 21.1 0 1 1 163.92 633.92L159.23 629.23A14.92 14.92 0 1 0 135.88 632.12Z" fill="#b7c31a"/><g transform="translate(149 619) rotate(263)"><path d="M-2.2 -22.6 L2.2 -22.6 L0 -18.3 Z" fill="#fff"/></g><g transform="translate(149 619) rotate(266)"><path d="M0 -21.6 L0.9 2.4 L-0.9 2.4 Z" fill="#666" stroke="#666" stroke-width="0.3"/></g></svg>
<svg class="abs" style="left:163.2px;top:634.9px" width="18" height="8.5" viewBox="0 0 18 8.500"><path fill-rule="evenodd" fill="#d4d4d9" d="M2.77 1.02L2.91 -0.01L4.59 -0.01L4.73 1.02L4.99 1.13L5.81 0.5L7 1.69L6.37 2.51L6.48 2.77L7.51 2.91L7.51 4.59L6.48 4.73L6.37 4.99L7 5.81L5.81 7L4.99 6.37L4.73 6.48L4.59 7.51L2.91 7.51L2.77 6.48L2.51 6.37L1.69 7L0.5 5.81L1.13 4.99L1.02 4.73L-0.01 4.59L-0.01 2.91L1.02 2.77L1.13 2.51L0.5 1.69L1.69 0.5L2.51 1.13ZM2.5 3.75a1.25 1.25 0 1 0 2.5 0a1.25 1.25 0 1 0 -2.5 0Z"/><path fill="#d4d4d9" d="M11.9 0h4.800v1l-.9.600v2.300l1.500 1.400v.900h-2.500l-.500 1.900-.500-1.900h-2.500v-.900l1.500-1.400v-2.300l-.9-.600z"/></svg>
<div class="abs ln" style="left:34px;top:645px;width:148px"></div>
<div class="abs th" style="left:59px">Channel</div>
<svg class="abs" style="left:112px;top:719px" width="8" height="5" viewBox="0 0 8 5"><path d="M0 0h8L4 4.500z" fill="#222"/></svg>
<div class="abs th" style="left:239px">ID</div>
<svg class="abs" style="left:257px;top:713px" width="8" height="11" viewBox="0 0 8 11"><path d="M0 4.500L4 0l4 4.500zM0 6.500L4 11l4-4.500z" fill="#d6d6d6"/></svg>
<div class="abs th" style="left:271px;width:80px;text-align:right">Last Value</div>
<div class="abs th" style="left:268px;width:80px;text-align:right;top:728px">(volume)</div>
<svg class="abs" style="left:341px;top:743px" width="8" height="11" viewBox="0 0 8 11"><path d="M0 4.500L4 0l4 4.500zM0 6.500L4 11l4-4.500z" fill="#d6d6d6"/></svg>
<div class="abs th" style="left:374px;width:70px;white-space:normal">Last Value (speed)</div>
<svg class="abs" style="left:425px;top:728px" width="8" height="11" viewBox="0 0 8 11"><path d="M0 4.500L4 0l4 4.500zM0 6.500L4 11l4-4.500z" fill="#d6d6d6"/></svg>
<div class="abs th" style="left:522px;letter-spacing:.3px">Minimum</div>
<svg class="abs" style="left:583px;top:713px" width="8" height="11" viewBox="0 0 8 11"><path d="M0 4.500L4 0l4 4.500zM0 6.500L4 11l4-4.500z" fill="#d6d6d6"/></svg>
<div class="abs th" style="left:678px;letter-spacing:.25px">Maximum</div>
<svg class="abs" style="left:742px;top:713px" width="8" height="11" viewBox="0 0 8 11"><path d="M0 4.500L4 0l4 4.500zM0 6.500L4 11l4-4.500z" fill="#d6d6d6"/></svg>
<div class="abs" style="left:49px;top:761px;width:843px;height:1px;background:#e2e2e2"></div>
<div class="abs td" style="left:59px;top:776px">Chat</div>
<div class="abs td r" style="left:207px;width:60px;top:776px">3004</div>
<div class="abs td r" style="left:261px;width:90px;top:776px">0.01 MBy<span class="el">…</span></div>
<div class="abs td" style="left:371px;top:776px">&lt; 0.01 M<span class="el">…</span></div>
<div class="abs td r" style="left:493px;width:100px;top:776px">0 Mbit/s</div>
<div class="abs td r" style="left:632px;width:120px;top:776px">&lt; 0.01 Mbit/s</div>
<svg class="abs" style="left:819px;top:774.7px" width="14" height="14" viewBox="0 0 14 14"><path fill-rule="evenodd" fill="#555" d="M7.61 1.1L7.93 0.15L10.27 0.15L10.59 1.1L10.59 1.1L11.49 0.65L13.15 2.31L12.7 3.21L12.7 3.21L13.65 3.53L13.65 5.87L12.7 6.19L12.7 6.19L13.15 7.09L11.49 8.75L10.59 8.3L10.59 8.3L10.27 9.25L7.93 9.25L7.61 8.3L7.61 8.3L6.71 8.75L5.05 7.09L5.5 6.19L5.5 6.19L4.55 5.87L4.55 3.53L5.5 3.21L5.5 3.21L5.05 2.31L6.71 0.65L7.61 1.1ZM7.2 4.7a1.9 1.9 0 1 0 3.8 0a1.9 1.9 0 1 0 -3.8 0Z"/><path fill-rule="evenodd" fill="#555" d="M2.52 8.28L2.68 7.59L4.12 7.59L4.28 8.28L4.28 8.28L4.88 7.9L5.9 8.92L5.52 9.52L5.52 9.52L6.21 9.68L6.21 11.12L5.52 11.28L5.52 11.28L5.9 11.88L4.88 12.9L4.28 12.52L4.28 12.52L4.12 13.21L2.68 13.21L2.52 12.52L2.52 12.52L1.92 12.9L0.9 11.88L1.28 11.28L1.28 11.28L0.59 11.12L0.59 9.68L1.28 9.52L1.28 9.52L0.9 8.92L1.92 7.9L2.52 8.28ZM2.6 10.4a0.8 0.8 0 1 0 1.6 0a0.8 0.8 0 1 0 -1.6 0Z"/></svg>
<div class="abs" style="left:49px;top:794px;width:843px;height:1px;background:#e6e6e6"></div>
<div class="abs td" style="left:59px;top:809px">Citrix</div>
<div class="abs td r" style="left:207px;width:60px;top:809px">3010</div>
<div class="abs td r" style="left:261px;width:90px;top:809px">0 MByte</div>
<div class="abs td r" style="left:345px;width:90px;top:809px">0 Mbit/s</div>
<div class="abs td r" style="left:493px;width:100px;top:809px">0 Mbit/s</div>
<div class="abs td r" style="left:632px;width:120px;top:809px">&lt; 0.01 Mbit/s</div>
<svg class="abs" style="left:819px;top:807.7px" width="14" height="14" viewBox="0 0 14 14"><path fill-rule="evenodd" fill="#555" d="M7.61 1.1L7.93 0.15L10.27 0.15L10.59 1.1L10.59 1.1L11.49 0.65L13.15 2.31L12.7 3.21L12.7 3.21L13.65 3.53L13.65 5.87L12.7 6.19L12.7 6.19L13.15 7.09L11.49 8.75L10.59 8.3L10.59 8.3L10.27 9.25L7.93 9.25L7.61 8.3L7.61 8.3L6.71 8.75L5.05 7.09L5.5 6.19L5.5 6.19L4.55 5.87L4.55 3.53L5.5 3.21L5.5 3.21L5.05 2.31L6.71 0.65L7.61 1.1ZM7.2 4.7a1.9 1.9 0 1 0 3.8 0a1.9 1.9 0 1 0 -3.8 0Z"/><path fill-rule="evenodd" fill="#555" d="M2.52 8.28L2.68 7.59L4.12 7.59L4.28 8.28L4.28 8.28L4.88 7.9L5.9 8.92L5.52 9.52L5.52 9.52L6.21 9.68L6.21 11.12L5.52 11.28L5.52 11.28L5.9 11.88L4.88 12.9L4.28 12.52L4.28 12.52L4.12 13.21L2.68 13.21L2.52 12.52L2.52 12.52L1.92 12.9L0.9 11.88L1.28 11.28L1.28 11.28L0.59 11.12L0.59 9.68L1.28 9.52L1.28 9.52L0.9 8.92L1.92 7.9L2.52 8.28ZM2.6 10.4a0.8 0.8 0 1 0 1.6 0a0.8 0.8 0 1 0 -1.6 0Z"/></svg>
<div class="abs" style="left:49px;top:827px;width:843px;height:1px;background:#e6e6e6"></div>
<div class="abs td" style="left:59px;top:842px">Downtime</div>
<div class="abs td r" style="left:207px;width:60px;top:842px">-4</div>
<div class="abs td r" style="left:261px;width:90px;top:842px"></div>
<div class="abs td r" style="left:345px;width:90px;top:842px"></div>
<div class="abs td r" style="left:493px;width:100px;top:842px"></div>
<div class="abs td r" style="left:632px;width:120px;top:842px"></div>
<svg class="abs" style="left:819px;top:840.7px" width="14" height="14" viewBox="0 0 14 14"><path fill-rule="evenodd" fill="#555" d="M7.61 1.1L7.93 0.15L10.27 0.15L10.59 1.1L10.59 1.1L11.49 0.65L13.15 2.31L12.7 3.21L12.7 3.21L13.65 3.53L13.65 5.87L12.7 6.19L12.7 6.19L13.15 7.09L11.49 8.75L10.59 8.3L10.59 8.3L10.27 9.25L7.93 9.25L7.61 8.3L7.61 8.3L6.71 8.75L5.05 7.09L5.5 6.19L5.5 6.19L4.55 5.87L4.55 3.53L5.5 3.21L5.5 3.21L5.05 2.31L6.71 0.65L7.61 1.1ZM7.2 4.7a1.9 1.9 0 1 0 3.8 0a1.9 1.9 0 1 0 -3.8 0Z"/><path fill-rule="evenodd" fill="#555" d="M2.52 8.28L2.68 7.59L4.12 7.59L4.28 8.28L4.28 8.28L4.88 7.9L5.9 8.92L5.52 9.52L5.52 9.52L6.21 9.68L6.21 11.12L5.52 11.28L5.52 11.28L5.9 11.88L4.88 12.9L4.28 12.52L4.28 12.52L4.12 13.21L2.68 13.21L2.52 12.52L2.52 12.52L1.92 12.9L0.9 11.88L1.28 11.28L1.28 11.28L0.59 11.12L0.59 9.68L1.28 9.52L1.28 9.52L0.9 8.92L1.92 7.9L2.52 8.28ZM2.6 10.4a0.8 0.8 0 1 0 1.6 0a0.8 0.8 0 1 0 -1.6 0Z"/></svg>
<div class="abs" style="left:49px;top:860px;width:843px;height:1px;background:#e6e6e6"></div>
<div class="abs td" style="left:59px;top:875px">FTP/P2P</div>
<div class="abs td r" style="left:207px;width:60px;top:875px">3002</div>
<div class="abs td r" style="left:261px;width:90px;top:875px">0.04 MBy<span class="el">…</span></div>
<div class="abs td" style="left:371px;top:875px">&lt; 0.01 M<span class="el">…</span></div>
<div class="abs td r" style="left:493px;width:100px;top:875px">0 Mbit/s</div>
<div class="abs td r" style="left:632px;width:120px;top:875px">&lt; 0.01 Mbit/s</div>
<svg class="abs" style="left:819px;top:873.7px" width="14" height="14" viewBox="0 0 14 14"><path fill-rule="evenodd" fill="#555" d="M7.61 1.1L7.93 0.15L10.27 0.15L10.59 1.1L10.59 1.1L11.49 0.65L13.15 2.31L12.7 3.21L12.7 3.21L13.65 3.53L13.65 5.87L12.7 6.19L12.7 6.19L13.15 7.09L11.49 8.75L10.59 8.3L10.59 8.3L10.27 9.25L7.93 9.25L7.61 8.3L7.61 8.3L6.71 8.75L5.05 7.09L5.5 6.19L5.5 6.19L4.55 5.87L4.55 3.53L5.5 3.21L5.5 3.21L5.05 2.31L6.71 0.65L7.61 1.1ZM7.2 4.7a1.9 1.9 0 1 0 3.8 0a1.9 1.9 0 1 0 -3.8 0Z"/><path fill-rule="evenodd" fill="#555" d="M2.52 8.28L2.68 7.59L4.12 7.59L4.28 8.28L4.28 8.28L4.88 7.9L5.9 8.92L5.52 9.52L5.52 9.52L6.21 9.68L6.21 11.12L5.52 11.28L5.52 11.28L5.9 11.88L4.88 12.9L4.28 12.52L4.28 12.52L4.12 13.21L2.68 13.21L2.52 12.52L2.52 12.52L1.92 12.9L0.9 11.88L1.28 11.28L1.28 11.28L0.59 11.12L0.59 9.68L1.28 9.52L1.28 9.52L0.9 8.92L1.92 7.9L2.52 8.28ZM2.6 10.4a0.8 0.8 0 1 0 1.6 0a0.8 0.8 0 1 0 -1.6 0Z"/></svg>
<div class="abs" style="left:49px;top:893px;width:843px;height:1px;background:#e6e6e6"></div>
<div class="abs td" style="left:59px;top:908px">Infrastructure</div>
<div class="abs td r" style="left:207px;width:60px;top:908px">3007</div>
<div class="abs td r" style="left:261px;width:90px;top:908px">0 MByte</div>
<div class="abs td r" style="left:345px;width:90px;top:908px">0 Mbit/s</div>
<div class="abs td r" style="left:493px;width:100px;top:908px">0 Mbit/s</div>
<div class="abs td r" style="left:632px;width:120px;top:908px">&lt; 0.01 Mbit/s</div>
<svg class="abs" style="left:819px;top:906.7px" width="14" height="14" viewBox="0 0 14 14"><path fill-rule="evenodd" fill="#555" d="M7.61 1.1L7.93 0.15L10.27 0.15L10.59 1.1L10.59 1.1L11.49 0.65L13.15 2.31L12.7 3.21L12.7 3.21L13.65 3.53L13.65 5.87L12.7 6.19L12.7 6.19L13.15 7.09L11.49 8.75L10.59 8.3L10.59 8.3L10.27 9.25L7.93 9.25L7.61 8.3L7.61 8.3L6.71 8.75L5.05 7.09L5.5 6.19L5.5 6.19L4.55 5.87L4.55 3.53L5.5 3.21L5.5 3.21L5.05 2.31L6.71 0.65L7.61 1.1ZM7.2 4.7a1.9 1.9 0 1 0 3.8 0a1.9 1.9 0 1 0 -3.8 0Z"/><path fill-rule="evenodd" fill="#555" d="M2.52 8.28L2.68 7.59L4.12 7.59L4.28 8.28L4.28 8.28L4.88 7.9L5.9 8.92L5.52 9.52L5.52 9.52L6.21 9.68L6.21 11.12L5.52 11.28L5.52 11.28L5.9 11.88L4.88 12.9L4.28 12.52L4.28 12.52L4.12 13.21L2.68 13.21L2.52 12.52L2.52 12.52L1.92 12.9L0.9 11.88L1.28 11.28L1.28 11.28L0.59 11.12L0.59 9.68L1.28 9.52L1.28 9.52L0.9 8.92L1.92 7.9L2.52 8.28ZM2.6 10.4a0.8 0.8 0 1 0 1.6 0a0.8 0.8 0 1 0 -1.6 0Z"/></svg>
<div class="abs" style="left:49px;top:926px;width:843px;height:1px;background:#e6e6e6"></div>
</body></html>
